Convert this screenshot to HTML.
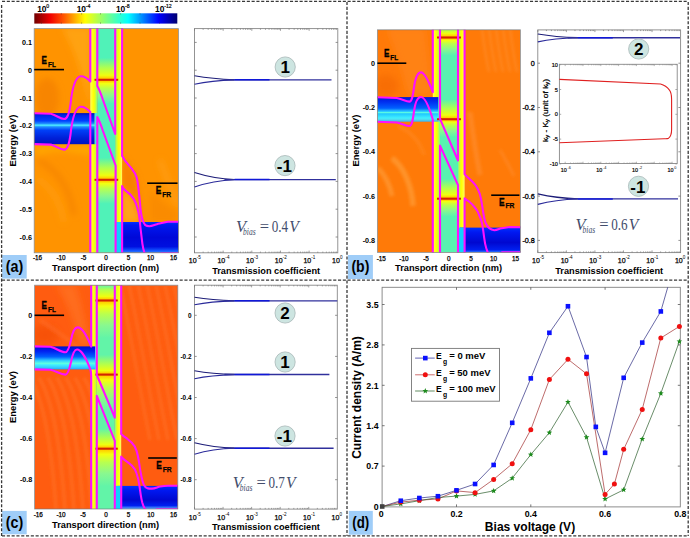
<!DOCTYPE html>
<html><head><meta charset="utf-8"><style>
html,body{margin:0;padding:0;background:#fff;}
svg{display:block;}
</style></head><body>
<svg width="690" height="538" viewBox="0 0 690 538">
<defs><linearGradient id="cbar" x1="0" y1="0" x2="1" y2="0"><stop offset="0" stop-color="#700000"/><stop offset="0.11" stop-color="#f00000"/><stop offset="0.2" stop-color="#ff5000"/><stop offset="0.355" stop-color="#ffff00"/><stop offset="0.5" stop-color="#80ff80"/><stop offset="0.655" stop-color="#00ffff"/><stop offset="0.87" stop-color="#0000ff"/><stop offset="1" stop-color="#000070"/></linearGradient><linearGradient id="bar1" x1="0" y1="0" x2="1" y2="0"><stop offset="0" stop-color="#fff870"/><stop offset="0.2" stop-color="#ffff30"/><stop offset="0.5" stop-color="#ffff00"/><stop offset="0.75" stop-color="#d0ff30"/><stop offset="1" stop-color="#80f890"/></linearGradient><linearGradient id="bar2" x1="0" y1="0" x2="1" y2="0"><stop offset="0" stop-color="#80f890"/><stop offset="0.25" stop-color="#d0ff30"/><stop offset="0.5" stop-color="#ffff00"/><stop offset="0.8" stop-color="#ffff30"/><stop offset="1" stop-color="#fff870"/></linearGradient><filter id="blur1" x="-20%" y="-20%" width="140%" height="140%"><feGaussianBlur stdDeviation="1.6"/></filter><filter id="blur2" x="-20%" y="-20%" width="140%" height="140%"><feGaussianBlur stdDeviation="3"/></filter><linearGradient id="Awell" gradientUnits="userSpaceOnUse" x1="0" y1="28.6" x2="0" y2="252.8"><stop offset="0" stop-color="#50f2b8"/><stop offset="0.13024085637823368" stop-color="#50f2b8"/><stop offset="0.17484388938447812" stop-color="#b0ff50"/><stop offset="0.20829616413916144" stop-color="#eeff10"/><stop offset="0.22123104371097232" stop-color="#ffd000"/><stop offset="0.2283675289919714" stop-color="#ff8000"/><stop offset="0.2355040142729705" stop-color="#ffd000"/><stop offset="0.24442462087421937" stop-color="#f4ff10"/><stop offset="0.2676181980374665" stop-color="#b8ff50"/><stop offset="0.29973238180196243" stop-color="#88f890"/><stop offset="0.335414808206958" stop-color="#50f2b8"/><stop offset="0.576271186440678" stop-color="#50f2b8"/><stop offset="0.6208742194469224" stop-color="#b0ff50"/><stop offset="0.6543264942016057" stop-color="#eeff10"/><stop offset="0.6672613737734167" stop-color="#ffd000"/><stop offset="0.6743978590544157" stop-color="#ff8000"/><stop offset="0.6815343443354148" stop-color="#ffd000"/><stop offset="0.6904549509366636" stop-color="#f4ff10"/><stop offset="0.7136485280999109" stop-color="#b8ff50"/><stop offset="0.7457627118644068" stop-color="#88f890"/><stop offset="0.7814451382694023" stop-color="#50f2b8"/><stop offset="1" stop-color="#50f2b8"/></linearGradient><linearGradient id="AblL" x1="0" y1="0" x2="0" y2="1"><stop offset="0" stop-color="#0010b8"/><stop offset="0.08" stop-color="#0028e8"/><stop offset="0.25" stop-color="#0040ff"/><stop offset="0.34" stop-color="#2090ff"/><stop offset="0.39" stop-color="#50f0ff"/><stop offset="0.44" stop-color="#2090ff"/><stop offset="0.55" stop-color="#0040f8"/><stop offset="0.8" stop-color="#0020d8"/><stop offset="1" stop-color="#0014c0"/></linearGradient><linearGradient id="AblR" x1="0" y1="0" x2="0" y2="1"><stop offset="0" stop-color="#0030ff"/><stop offset="0.1" stop-color="#0018f0"/><stop offset="0.5" stop-color="#0008d8"/><stop offset="0.8" stop-color="#0010e0"/><stop offset="0.92" stop-color="#1050ff"/><stop offset="1" stop-color="#3080ff"/></linearGradient><linearGradient id="Bwell" gradientUnits="userSpaceOnUse" x1="0" y1="29.8" x2="0" y2="252.4"><stop offset="0" stop-color="#58f2b0"/><stop offset="0" stop-color="#58f2b0"/><stop offset="0" stop-color="#b0ff50"/><stop offset="0.016397124887690937" stop-color="#eeff10"/><stop offset="0.027403414195867018" stop-color="#ffd000"/><stop offset="0.03459119496855346" stop-color="#ff8000"/><stop offset="0.0417789757412399" stop-color="#ffd000"/><stop offset="0.046720575022461824" stop-color="#f4ff10"/><stop offset="0.064240790655885" stop-color="#b8ff50"/><stop offset="0.08849955076370171" stop-color="#88f890"/><stop offset="0.11545372866127583" stop-color="#58f2b0"/><stop offset="0.3126684636118599" stop-color="#58f2b0"/><stop offset="0.3530997304582211" stop-color="#b0ff50"/><stop offset="0.38342318059299196" stop-color="#eeff10"/><stop offset="0.39442946990116806" stop-color="#ffd000"/><stop offset="0.4016172506738545" stop-color="#ff8000"/><stop offset="0.4088050314465409" stop-color="#ffd000"/><stop offset="0.41374663072776285" stop-color="#f4ff10"/><stop offset="0.431266846361186" stop-color="#b8ff50"/><stop offset="0.45552560646900264" stop-color="#88f890"/><stop offset="0.4824797843665768" stop-color="#58f2b0"/><stop offset="0.6698113207547168" stop-color="#58f2b0"/><stop offset="0.7102425876010781" stop-color="#b0ff50"/><stop offset="0.740566037735849" stop-color="#eeff10"/><stop offset="0.7515723270440251" stop-color="#ffd000"/><stop offset="0.7587601078167115" stop-color="#ff8000"/><stop offset="0.7659478885893979" stop-color="#ffd000"/><stop offset="0.7708894878706198" stop-color="#f4ff10"/><stop offset="0.788409703504043" stop-color="#b8ff50"/><stop offset="0.8126684636118597" stop-color="#88f890"/><stop offset="0.8396226415094339" stop-color="#58f2b0"/><stop offset="1" stop-color="#58f2b0"/></linearGradient><linearGradient id="BblL" x1="0" y1="0" x2="0" y2="1"><stop offset="0" stop-color="#0018d8"/><stop offset="0.2" stop-color="#0030f0"/><stop offset="0.45" stop-color="#0060ff"/><stop offset="0.6" stop-color="#30d8ff"/><stop offset="0.62" stop-color="#60ffe0"/><stop offset="0.68" stop-color="#20c8ff"/><stop offset="0.85" stop-color="#40f0ff"/><stop offset="0.9" stop-color="#50e0f0"/><stop offset="1" stop-color="#40b0f0"/></linearGradient><linearGradient id="BblR" x1="0" y1="0" x2="0" y2="1"><stop offset="0" stop-color="#0030ff"/><stop offset="0.2" stop-color="#0018f0"/><stop offset="0.6" stop-color="#0008d0"/><stop offset="0.9" stop-color="#0020f0"/><stop offset="1" stop-color="#3080ff"/></linearGradient><linearGradient id="Cwell" gradientUnits="userSpaceOnUse" x1="0" y1="285.2" x2="0" y2="509.0"><stop offset="0" stop-color="#62f4a8"/><stop offset="0" stop-color="#62f4a8"/><stop offset="0.020107238605898123" stop-color="#b0ff50"/><stop offset="0.05026809651474531" stop-color="#eeff10"/><stop offset="0.061215370866845344" stop-color="#ffd000"/><stop offset="0.06836461126005366" stop-color="#ff8000"/><stop offset="0.07551385165326199" stop-color="#ffd000"/><stop offset="0.09349865951742632" stop-color="#f4ff10"/><stop offset="0.12980339588918682" stop-color="#b8ff50"/><stop offset="0.18007149240393214" stop-color="#88f890"/><stop offset="0.23592493297587136" stop-color="#62f4a8"/><stop offset="0.31099195710455774" stop-color="#62f4a8"/><stop offset="0.35120643431635395" stop-color="#b0ff50"/><stop offset="0.38136729222520116" stop-color="#eeff10"/><stop offset="0.3923145665773012" stop-color="#ffd000"/><stop offset="0.39946380697050954" stop-color="#ff8000"/><stop offset="0.40661304736371784" stop-color="#ffd000"/><stop offset="0.4245978552278822" stop-color="#f4ff10"/><stop offset="0.46090259159964264" stop-color="#b8ff50"/><stop offset="0.5111706881143879" stop-color="#88f890"/><stop offset="0.5670241286863272" stop-color="#62f4a8"/><stop offset="0.6420911528150133" stop-color="#62f4a8"/><stop offset="0.6823056300268096" stop-color="#b0ff50"/><stop offset="0.7124664879356567" stop-color="#eeff10"/><stop offset="0.7234137622877568" stop-color="#ffd000"/><stop offset="0.7305630026809651" stop-color="#ff8000"/><stop offset="0.7377122430741734" stop-color="#ffd000"/><stop offset="0.7556970509383377" stop-color="#f4ff10"/><stop offset="0.7920017873100983" stop-color="#b8ff50"/><stop offset="0.8422698838248436" stop-color="#88f890"/><stop offset="0.8981233243967828" stop-color="#62f4a8"/><stop offset="1" stop-color="#62f4a8"/></linearGradient><linearGradient id="CblL" x1="0" y1="0" x2="0" y2="1"><stop offset="0" stop-color="#0010d0"/><stop offset="0.2" stop-color="#0020f0"/><stop offset="0.45" stop-color="#0060ff"/><stop offset="0.62" stop-color="#30d0ff"/><stop offset="0.74" stop-color="#60ffe0"/><stop offset="0.8" stop-color="#40f0ff"/><stop offset="0.95" stop-color="#30c0ff"/><stop offset="1" stop-color="#2090ff"/></linearGradient><linearGradient id="CblR" x1="0" y1="0" x2="0" y2="1"><stop offset="0" stop-color="#0030ff"/><stop offset="0.2" stop-color="#0018f0"/><stop offset="0.6" stop-color="#0008d0"/><stop offset="0.85" stop-color="#0020f0"/><stop offset="1" stop-color="#60b0ff"/></linearGradient><clipPath id="Aclip"><rect x="34.2" y="28.6" width="144.3" height="224.20000000000002"/></clipPath><clipPath id="Bclip"><rect x="377.4" y="29.8" width="143.0" height="222.6"/></clipPath><clipPath id="Cclip"><rect x="34.6" y="285.2" width="143.20000000000002" height="223.8"/></clipPath><clipPath id="Dclip"><rect x="382.1" y="287.3" width="303.19999999999993" height="223.59999999999997"/></clipPath></defs>
<rect width="690" height="538" fill="#fff"/>
<rect x="34.3" y="13.3" width="143" height="10.3" fill="url(#cbar)" />
<line x1="41.5" y1="13.3" x2="41.5" y2="14.4" stroke="#333" stroke-width="0.5" />
<line x1="41.5" y1="22.5" x2="41.5" y2="23.6" stroke="#333" stroke-width="0.5" />
<line x1="61.3" y1="13.3" x2="61.3" y2="14.4" stroke="#333" stroke-width="0.5" />
<line x1="61.3" y1="22.5" x2="61.3" y2="23.6" stroke="#333" stroke-width="0.5" />
<line x1="81.6" y1="13.3" x2="81.6" y2="14.4" stroke="#333" stroke-width="0.5" />
<line x1="81.6" y1="22.5" x2="81.6" y2="23.6" stroke="#333" stroke-width="0.5" />
<line x1="100.5" y1="13.3" x2="100.5" y2="14.4" stroke="#333" stroke-width="0.5" />
<line x1="100.5" y1="22.5" x2="100.5" y2="23.6" stroke="#333" stroke-width="0.5" />
<line x1="120.6" y1="13.3" x2="120.6" y2="14.4" stroke="#333" stroke-width="0.5" />
<line x1="120.6" y1="22.5" x2="120.6" y2="23.6" stroke="#333" stroke-width="0.5" />
<line x1="140" y1="13.3" x2="140" y2="14.4" stroke="#333" stroke-width="0.5" />
<line x1="140" y1="22.5" x2="140" y2="23.6" stroke="#333" stroke-width="0.5" />
<line x1="159.5" y1="13.3" x2="159.5" y2="14.4" stroke="#333" stroke-width="0.5" />
<line x1="159.5" y1="22.5" x2="159.5" y2="23.6" stroke="#333" stroke-width="0.5" />
<text x="37.2" y="11.8" text-anchor="start" style='font-family:"Liberation Sans",sans-serif;font-size:8.4px;font-weight:bold;fill:#000;'>10</text>
<text x="46.3" y="8.2" text-anchor="start" style='font-family:"Liberation Sans",sans-serif;font-size:5.2px;font-weight:normal;fill:#000;stroke:#000;stroke-width:0.2px;'>0</text>
<text x="76.7" y="11.8" text-anchor="start" style='font-family:"Liberation Sans",sans-serif;font-size:8.4px;font-weight:bold;fill:#000;'>10</text>
<text x="85.8" y="8.2" text-anchor="start" style='font-family:"Liberation Sans",sans-serif;font-size:5.2px;font-weight:normal;fill:#000;stroke:#000;stroke-width:0.2px;'>-4</text>
<text x="115.9" y="11.8" text-anchor="start" style='font-family:"Liberation Sans",sans-serif;font-size:8.4px;font-weight:bold;fill:#000;'>10</text>
<text x="125.0" y="8.2" text-anchor="start" style='font-family:"Liberation Sans",sans-serif;font-size:5.2px;font-weight:normal;fill:#000;stroke:#000;stroke-width:0.2px;'>-8</text>
<text x="155.1" y="11.8" text-anchor="start" style='font-family:"Liberation Sans",sans-serif;font-size:8.4px;font-weight:bold;fill:#000;'>10</text>
<text x="164.20000000000002" y="8.2" text-anchor="start" style='font-family:"Liberation Sans",sans-serif;font-size:5.2px;font-weight:normal;fill:#000;stroke:#000;stroke-width:0.2px;'>-12</text>
<g clip-path="url(#Aclip)">
<rect x="34.2" y="28.6" width="144.3" height="224.20000000000002" fill="#ff9300" />
<g filter="url(#blur2)">
<path d="M62,28 L90,28 L90,112 C86,84 76,52 62,28 Z" fill="#ffae20" opacity="0.55"/>
<ellipse cx="47" cy="98" rx="12" ry="20" fill="#ee7400" opacity="0.45"/>
<path d="M36,146 L92,146 L92,156 C70,150 50,150 36,156 Z" fill="#ffb400" opacity="0.6"/>
<path d="M38,160 C58,170 70,190 74,215" stroke="#f07a00" stroke-width="5" fill="none" opacity="0.55"/>
<path d="M36,178 C50,186 60,200 64,222" stroke="#ffa820" stroke-width="4" fill="none" opacity="0.5"/>
<path d="M122,156 C128,164 134,170 136.6,177.3 C139,190 141,215 145,225 L141,228 C139,215 137,206 133,198 C129,193 125,189 122,186 Z" fill="#f07000" opacity="0.5"/>
<path d="M122,190 C130,195 136,203 139,215 L140,222 L122,222 Z" fill="#ffb030" opacity="0.55"/>
<path d="M150,190 C160,200 170,208 178,212 L178,222 L150,222 Z" fill="#f27c00" opacity="0.35"/>
<path d="M160,160 C168,180 172,195 178,205" stroke="#ffae30" stroke-width="4" fill="none" opacity="0.45"/>
</g>
<rect x="90.3" y="28.6" width="7.0" height="224.20000000000002" fill="url(#bar1)" />
<rect x="115.2" y="28.6" width="6.8999999999999915" height="224.20000000000002" fill="url(#bar2)" />
<rect x="97.3" y="28.6" width="17.900000000000006" height="224.20000000000002" fill="url(#Awell)" />
<rect x="34.2" y="113.1" width="60.5" height="31.099999999999994" fill="url(#AblL)" />
<rect x="117" y="222" width="61.5" height="30.80000000000001" fill="url(#AblR)" />
<rect x="115.7" y="222" width="5.8999999999999915" height="30.80000000000001" fill="#10d0ff" />
<rect x="94.7" y="113.1" width="2.5999999999999943" height="31.099999999999994" fill="#40e8e8" />
<rect x="94.5" y="78.8" width="23.700000000000006" height="2.0" fill="#d02800" />
<rect x="94.5" y="178.8" width="23.700000000000006" height="2.0" fill="#d02800" />
<path d="M34,113.3 L50.8,113.8 C56,115 60,119 64.2,119 C68,119 69.5,112 70.5,104 C72,90 74.5,77 80.6,76.3 C85,76 88,79 90.3,81.5 L90.3,20" fill="none" stroke="#ff10ff" stroke-width="2.1" stroke-linejoin="round"/>
<path d="M34,144.1 L50.8,144.6 C56,146 60,149.6 64.2,149.6 C68,149.6 69.5,142.5 70.5,134.5 C72,120.5 74.5,107.5 80.6,106.8 C85,106.5 88,109.5 90.3,112 L90.3,260" fill="none" stroke="#ff10ff" stroke-width="2.1" stroke-linejoin="round"/>
<path d="M97.3,20 L97.3,86 C99,89 101,94 103,100 L115.2,134 L115.2,20" fill="none" stroke="#ff10ff" stroke-width="2.1" stroke-linejoin="round"/>
<path d="M97.3,260 L97.3,117 C99,120 101,125 103,131 L115.6,165.5 L115.6,260" fill="none" stroke="#ff10ff" stroke-width="2.1" stroke-linejoin="round"/>
<path d="M122.1,20 L122.1,155.9 C123.5,158 124.5,160 125.8,161.7 C128,164.5 130,166.5 131.7,168.6 C134,171.5 135.8,174.5 136.6,177.3 C137.6,181 138,185 138.5,189 C139.3,196 140,203 140.5,208.6 C141,213 141.6,217 142.4,219.3 C143.2,222 144,224 145.3,225.2 C146.5,226 148,226.2 149.3,226.2 C152,226.2 154.5,224.8 157,224.2 C160,223.5 163,222.5 168,221.8 L180,221.8" fill="none" stroke="#ff10ff" stroke-width="2.1" stroke-linejoin="round"/>
<path d="M122.1,260 L122.1,186.1 C122.7,187.5 123.2,188.3 123.9,189 C126,191 128.5,193 130.7,194.9 C132.5,196.7 134.3,199.5 135.6,202.7 C136.8,206 137.8,209.5 138.5,212.5 C139.5,217 140,223 140.5,228.1 C141.2,234 141.8,239 142.4,243.8 C143,248 143.7,250.5 144.4,252.5 C146,258 148,258 152,258 L162,253 L180,253" fill="none" stroke="#ff10ff" stroke-width="2.1" stroke-linejoin="round"/>
</g>
<rect x="34.2" y="28.6" width="144.3" height="224.20000000000002" fill="none" stroke="#707880" stroke-width="0.8" stroke-opacity="0.8"/>
<line x1="34.2" y1="69.6" x2="64" y2="69.6" stroke="#000" stroke-width="1.6" />
<text x="41.6" y="64.4" text-anchor="start" style='font-family:"Liberation Sans",sans-serif;font-size:10.5px;font-weight:bold;fill:#000;stroke:#000;stroke-width:0.35px;' textLength="5.4" lengthAdjust="spacingAndGlyphs">E</text>
<text x="48.0" y="67.2" text-anchor="start" style='font-family:"Liberation Sans",sans-serif;font-size:7.8px;font-weight:bold;fill:#000;stroke:#000;stroke-width:0.25px;' textLength="7.8" lengthAdjust="spacingAndGlyphs">FL</text>
<line x1="147.2" y1="183.2" x2="177.5" y2="183.2" stroke="#000" stroke-width="1.6" />
<text x="155.8" y="194.2" text-anchor="start" style='font-family:"Liberation Sans",sans-serif;font-size:10.5px;font-weight:bold;fill:#000;stroke:#000;stroke-width:0.35px;' textLength="5.6" lengthAdjust="spacingAndGlyphs">E</text>
<text x="162.2" y="196.79999999999998" text-anchor="start" style='font-family:"Liberation Sans",sans-serif;font-size:7.8px;font-weight:bold;fill:#000;stroke:#000;stroke-width:0.25px;' textLength="9" lengthAdjust="spacingAndGlyphs">FR</text>
<text x="31.900000000000002" y="44.900000000000006" text-anchor="end" style='font-family:"Liberation Sans",sans-serif;font-size:7.2px;font-weight:bold;fill:#000;'>0.1</text>
<text x="31.900000000000002" y="72.7" text-anchor="end" style='font-family:"Liberation Sans",sans-serif;font-size:7.2px;font-weight:bold;fill:#000;'>0</text>
<text x="31.900000000000002" y="100.5" text-anchor="end" style='font-family:"Liberation Sans",sans-serif;font-size:7.2px;font-weight:bold;fill:#000;'>-0.1</text>
<text x="31.900000000000002" y="128.3" text-anchor="end" style='font-family:"Liberation Sans",sans-serif;font-size:7.2px;font-weight:bold;fill:#000;'>-0.2</text>
<text x="31.900000000000002" y="156.1" text-anchor="end" style='font-family:"Liberation Sans",sans-serif;font-size:7.2px;font-weight:bold;fill:#000;'>-0.3</text>
<text x="31.900000000000002" y="183.9" text-anchor="end" style='font-family:"Liberation Sans",sans-serif;font-size:7.2px;font-weight:bold;fill:#000;'>-0.4</text>
<text x="31.900000000000002" y="211.7" text-anchor="end" style='font-family:"Liberation Sans",sans-serif;font-size:7.2px;font-weight:bold;fill:#000;'>-0.5</text>
<text x="31.900000000000002" y="239.5" text-anchor="end" style='font-family:"Liberation Sans",sans-serif;font-size:7.2px;font-weight:bold;fill:#000;'>-0.6</text>
<text x="37.5" y="260.1" text-anchor="middle" style='font-family:"Liberation Sans",sans-serif;font-size:6.4px;font-weight:normal;fill:#000;stroke:#000;stroke-width:0.25px;'>-16</text>
<text x="61" y="260.1" text-anchor="middle" style='font-family:"Liberation Sans",sans-serif;font-size:6.4px;font-weight:normal;fill:#000;stroke:#000;stroke-width:0.25px;'>-10</text>
<text x="83.5" y="260.1" text-anchor="middle" style='font-family:"Liberation Sans",sans-serif;font-size:6.4px;font-weight:normal;fill:#000;stroke:#000;stroke-width:0.25px;'>-5</text>
<text x="106" y="260.1" text-anchor="middle" style='font-family:"Liberation Sans",sans-serif;font-size:6.4px;font-weight:normal;fill:#000;stroke:#000;stroke-width:0.25px;'>0</text>
<text x="128.5" y="260.1" text-anchor="middle" style='font-family:"Liberation Sans",sans-serif;font-size:6.4px;font-weight:normal;fill:#000;stroke:#000;stroke-width:0.25px;'>5</text>
<text x="150.5" y="260.1" text-anchor="middle" style='font-family:"Liberation Sans",sans-serif;font-size:6.4px;font-weight:normal;fill:#000;stroke:#000;stroke-width:0.25px;'>10</text>
<text x="173.5" y="260.1" text-anchor="middle" style='font-family:"Liberation Sans",sans-serif;font-size:6.4px;font-weight:normal;fill:#000;stroke:#000;stroke-width:0.25px;'>16</text>
<text x="105.5" y="270.6" text-anchor="middle" style='font-family:"Liberation Sans",sans-serif;font-size:9.4px;font-weight:bold;fill:#000;' textLength="107" lengthAdjust="spacingAndGlyphs">Transport direction (nm)</text>
<text transform="translate(16.2,140.6) rotate(-90)" text-anchor="middle" style='font-family:"Liberation Sans",sans-serif;font-size:9.4px;font-weight:bold;fill:#000' textLength="52" lengthAdjust="spacingAndGlyphs">Energy (eV)</text>
<g clip-path="url(#Bclip)">
<rect x="377.4" y="29.8" width="143.0" height="222.6" fill="#ff7a08" />
<g filter="url(#blur1)">
<path d="M386,28 L425,28 C428,60 430,80 432,95 L408,95 C402,70 394,45 386,28 Z" fill="#ff8c28" opacity="0.45" filter="url(#blur2)"/>
<ellipse cx="386" cy="86" rx="12" ry="11" fill="#f06000" opacity="0.45" filter="url(#blur2)"/>
<path d="M392,158 C405,168 412,188 413,206" stroke="#ff9630" stroke-width="5.5" fill="none" opacity="0.85"/>
<path d="M378,168 C386,176 390,186 392,196" stroke="#ff9630" stroke-width="5" fill="none" opacity="0.8"/>
<path d="M398,126 C412,132 420,142 424,155" stroke="#ff8c20" stroke-width="4" fill="none" opacity="0.5"/>
<path d="M482,28 C484,45 486,58 489,72" stroke="#ff9436" stroke-width="2.2" fill="none" opacity="0.5"/>
<path d="M489,28 C491,45 493,58 496,72" stroke="#ff9436" stroke-width="2.2" fill="none" opacity="0.5"/>
<path d="M496,28 C498,45 500,58 503,72" stroke="#ff9436" stroke-width="2.2" fill="none" opacity="0.5"/>
<path d="M503,28 C505,45 507,58 510,72" stroke="#ff9436" stroke-width="2.2" fill="none" opacity="0.5"/>
<path d="M510,28 C512,45 514,58 517,72" stroke="#ff9436" stroke-width="2.2" fill="none" opacity="0.5"/>
<path d="M470,112 C473,135 476,155 480,175" stroke="#ff9030" stroke-width="5" fill="none" opacity="0.6"/>
<path d="M500,150 C506,160 510,168 514,176" stroke="#ff9030" stroke-width="3" fill="none" opacity="0.5"/>
</g>
<rect x="432.8" y="29.8" width="7.199999999999989" height="222.6" fill="url(#bar1)" />
<rect x="458.0" y="29.8" width="6.600000000000023" height="222.6" fill="url(#bar2)" />
<rect x="440.0" y="29.8" width="18.0" height="222.6" fill="url(#Bwell)" />
<rect x="377.4" y="97.1" width="61.10000000000002" height="24.60000000000001" fill="url(#BblL)" />
<rect x="460" y="227.6" width="60.39999999999998" height="24.80000000000001" fill="url(#BblR)" />
<rect x="458.5" y="227.6" width="5.600000000000023" height="24.80000000000001" fill="#10d0ff" />
<rect x="438.5" y="97.1" width="1.5" height="24.60000000000001" fill="#40e8e8" />
<rect x="437.0" y="36.5" width="23.99999999999999" height="2.0" fill="#d02800" />
<rect x="437.0" y="118.2" width="23.99999999999999" height="2.0" fill="#d02800" />
<rect x="437.0" y="197.7" width="23.99999999999999" height="2.0" fill="#d02800" />
<path d="M377,97.2 L396.8,98 C402,99 406,101.6 409.4,101.6 C412,101.6 413,95 413.9,88 C415,80 417,72.4 420.9,72.4 C425,72.4 429,82 432.8,92.2 L432.8,20" fill="none" stroke="#ff10ff" stroke-width="2.1" stroke-linejoin="round"/>
<path d="M377,121.7 L396.8,122.5 C402,123.5 406,126 409.4,126 C412,126 413,119 413.9,112 C415,104 417,97 420.8,97 C425,97 429,106.5 432.8,119.5 L432.8,260" fill="none" stroke="#ff10ff" stroke-width="2.1" stroke-linejoin="round"/>
<path d="M440,20 L440,118.8 L458,160.5 L458,20" fill="none" stroke="#ff10ff" stroke-width="2.1" stroke-linejoin="round"/>
<path d="M440,260 L440,145.6 L458,185 L458,260" fill="none" stroke="#ff10ff" stroke-width="2.1" stroke-linejoin="round"/>
<path d="M464.6,20 L464.6,174.2 C466.5,176.5 470,179.5 472.5,181.7 C476,185 479.5,191 480.9,198.4 C482,204 482.8,210 483.4,213.5 C484.2,218 485,222 485.9,223.5 C487,226 489,229.6 494.3,230.2 C497,230.2 499,228.8 500.1,228.5 L510,227 L522,227.3" fill="none" stroke="#ff10ff" stroke-width="2.1" stroke-linejoin="round"/>
<path d="M464.6,260 L464.6,198.4 C466,199.5 467,200.5 468.4,201 C471,203 473,205 475,207.6 C477,210 478.5,213 479.2,215.2 C480.5,218 481.2,220 481.7,221.9 C482.5,225 483,229 483.4,231.9 C484,237 484.5,240 485.1,243.6 C486,248 487,250.5 487.6,252 C489,256 491,257 494,257 L502,252.4 L522,252.4" fill="none" stroke="#ff10ff" stroke-width="2.1" stroke-linejoin="round"/>
</g>
<rect x="377.4" y="29.8" width="143.0" height="222.6" fill="none" stroke="#707880" stroke-width="0.8" stroke-opacity="0.8"/>
<line x1="377.4" y1="63.2" x2="406.3" y2="63.2" stroke="#000" stroke-width="1.6" />
<text x="383.90000000000003" y="56.8" text-anchor="start" style='font-family:"Liberation Sans",sans-serif;font-size:10.5px;font-weight:bold;fill:#000;stroke:#000;stroke-width:0.35px;' textLength="5.4" lengthAdjust="spacingAndGlyphs">E</text>
<text x="390.3" y="59.599999999999994" text-anchor="start" style='font-family:"Liberation Sans",sans-serif;font-size:7.8px;font-weight:bold;fill:#000;stroke:#000;stroke-width:0.25px;' textLength="7.8" lengthAdjust="spacingAndGlyphs">FL</text>
<line x1="491.2" y1="195.2" x2="519.4" y2="195.2" stroke="#000" stroke-width="1.6" />
<text x="499.0" y="205.8" text-anchor="start" style='font-family:"Liberation Sans",sans-serif;font-size:10.5px;font-weight:bold;fill:#000;stroke:#000;stroke-width:0.35px;' textLength="5.6" lengthAdjust="spacingAndGlyphs">E</text>
<text x="505.4" y="208.4" text-anchor="start" style='font-family:"Liberation Sans",sans-serif;font-size:7.8px;font-weight:bold;fill:#000;stroke:#000;stroke-width:0.25px;' textLength="9" lengthAdjust="spacingAndGlyphs">FR</text>
<text x="375.09999999999997" y="65.7" text-anchor="end" style='font-family:"Liberation Sans",sans-serif;font-size:7.2px;font-weight:bold;fill:#000;'>0</text>
<text x="375.09999999999997" y="110.0" text-anchor="end" style='font-family:"Liberation Sans",sans-serif;font-size:7.2px;font-weight:bold;fill:#000;'>-0.2</text>
<text x="375.09999999999997" y="154.3" text-anchor="end" style='font-family:"Liberation Sans",sans-serif;font-size:7.2px;font-weight:bold;fill:#000;'>-0.4</text>
<text x="375.09999999999997" y="198.60000000000002" text-anchor="end" style='font-family:"Liberation Sans",sans-serif;font-size:7.2px;font-weight:bold;fill:#000;'>-0.6</text>
<text x="375.09999999999997" y="242.90000000000003" text-anchor="end" style='font-family:"Liberation Sans",sans-serif;font-size:7.2px;font-weight:bold;fill:#000;'>-0.8</text>
<text x="381.3" y="260.5" text-anchor="middle" style='font-family:"Liberation Sans",sans-serif;font-size:6.4px;font-weight:normal;fill:#000;stroke:#000;stroke-width:0.25px;'>-15</text>
<text x="403.9" y="260.5" text-anchor="middle" style='font-family:"Liberation Sans",sans-serif;font-size:6.4px;font-weight:normal;fill:#000;stroke:#000;stroke-width:0.25px;'>-10</text>
<text x="426" y="260.5" text-anchor="middle" style='font-family:"Liberation Sans",sans-serif;font-size:6.4px;font-weight:normal;fill:#000;stroke:#000;stroke-width:0.25px;'>-5</text>
<text x="448.8" y="260.5" text-anchor="middle" style='font-family:"Liberation Sans",sans-serif;font-size:6.4px;font-weight:normal;fill:#000;stroke:#000;stroke-width:0.25px;'>0</text>
<text x="471.1" y="260.5" text-anchor="middle" style='font-family:"Liberation Sans",sans-serif;font-size:6.4px;font-weight:normal;fill:#000;stroke:#000;stroke-width:0.25px;'>5</text>
<text x="493.5" y="260.5" text-anchor="middle" style='font-family:"Liberation Sans",sans-serif;font-size:6.4px;font-weight:normal;fill:#000;stroke:#000;stroke-width:0.25px;'>10</text>
<text x="515.5" y="260.5" text-anchor="middle" style='font-family:"Liberation Sans",sans-serif;font-size:6.4px;font-weight:normal;fill:#000;stroke:#000;stroke-width:0.25px;'>15</text>
<text x="448.5" y="270.8" text-anchor="middle" style='font-family:"Liberation Sans",sans-serif;font-size:9.4px;font-weight:bold;fill:#000;' textLength="107" lengthAdjust="spacingAndGlyphs">Transport direction (nm)</text>
<text transform="translate(359.2,140.6) rotate(-90)" text-anchor="middle" style='font-family:"Liberation Sans",sans-serif;font-size:9.4px;font-weight:bold;fill:#000' textLength="52" lengthAdjust="spacingAndGlyphs">Energy (eV)</text>
<g clip-path="url(#Cclip)">
<rect x="34.6" y="285.2" width="143.20000000000002" height="223.8" fill="#ff5c10" />
<g filter="url(#blur1)">
<path d="M56,285 L76,285 C82,305 86,325 90,345 L80,345 C74,320 66,300 56,285 Z" fill="#ff7a28" opacity="0.55" filter="url(#blur2)"/>
<ellipse cx="45" cy="335" rx="14" ry="10" fill="#f04800" opacity="0.5" filter="url(#blur2)"/>
<path d="M30,378 C44,400 52,450 56,510" stroke="#ff7426" stroke-width="3.2" fill="none" opacity="0.6"/>
<path d="M39,378 C53,400 61,450 65,510" stroke="#ff7426" stroke-width="3.2" fill="none" opacity="0.6"/>
<path d="M48,378 C62,400 70,450 74,510" stroke="#ff7426" stroke-width="3.2" fill="none" opacity="0.6"/>
<path d="M57,378 C71,400 79,450 83,510" stroke="#ff7426" stroke-width="3.2" fill="none" opacity="0.6"/>
<path d="M66,378 C80,400 88,450 92,510" stroke="#ff7426" stroke-width="3.2" fill="none" opacity="0.6"/>
<path d="M75,378 C89,400 97,450 101,510" stroke="#ff7426" stroke-width="3.2" fill="none" opacity="0.6"/>
<path d="M84,378 C98,400 106,450 110,510" stroke="#ff7426" stroke-width="3.2" fill="none" opacity="0.6"/>
<path d="M120,285 C130,330 138,380 150,440" stroke="#ff7426" stroke-width="3" fill="none" opacity="0.55"/>
<path d="M129,285 C139,330 147,380 159,440" stroke="#ff7426" stroke-width="3" fill="none" opacity="0.55"/>
<path d="M138,285 C148,330 156,380 168,440" stroke="#ff7426" stroke-width="3" fill="none" opacity="0.55"/>
<path d="M147,285 C157,330 165,380 177,440" stroke="#ff7426" stroke-width="3" fill="none" opacity="0.55"/>
<path d="M156,285 C166,330 174,380 186,440" stroke="#ff7426" stroke-width="3" fill="none" opacity="0.55"/>
<path d="M165,285 C175,330 183,380 195,440" stroke="#ff7426" stroke-width="3" fill="none" opacity="0.55"/>
<path d="M174,285 C184,330 192,380 204,440" stroke="#ff7426" stroke-width="3" fill="none" opacity="0.55"/>
<path d="M40,320 C55,330 70,340 80,350" stroke="#ff7020" stroke-width="4" fill="none" opacity="0.5"/>
</g>
<rect x="91.2" y="285.2" width="5.599999999999994" height="223.8" fill="url(#bar1)" />
<rect x="114.8" y="285.2" width="6.400000000000006" height="223.8" fill="url(#bar2)" />
<rect x="96.8" y="285.2" width="18.0" height="223.8" fill="url(#Cwell)" />
<rect x="34.6" y="346.4" width="60.4" height="23.0" fill="url(#CblL)" />
<rect x="117.5" y="485.9" width="60.30000000000001" height="23.100000000000023" fill="url(#CblR)" />
<rect x="115.3" y="485.9" width="5.400000000000006" height="23.100000000000023" fill="#10d0ff" />
<rect x="95" y="346.4" width="1.7999999999999972" height="23.0" fill="#40e8e8" />
<rect x="95.4" y="299.5" width="22.399999999999995" height="2.0" fill="#d02800" />
<rect x="95.4" y="373.6" width="22.399999999999995" height="2.0" fill="#d02800" />
<rect x="95.4" y="447.7" width="22.399999999999995" height="2.0" fill="#d02800" />
<path d="M34,346.4 L50.4,346.8 C56,348 61,352.3 65.3,352.3 C68,352.3 69.5,347 71,340 C72.5,332 74.5,327.4 77.6,327.4 C82,327.4 87,336 91.2,346.6 L91.2,270" fill="none" stroke="#ff10ff" stroke-width="2.1" stroke-linejoin="round"/>
<path d="M34,369.4 L50.4,369.8 C56,371 61,374.6 65.3,374.6 C68,374.6 69.5,369 71,362 C72.5,354 74.5,349.5 77,349.5 C81,349.5 86,358 89.5,367.2 C90.5,369 91.2,372 91.2,376 L91.2,520" fill="none" stroke="#ff10ff" stroke-width="2.1" stroke-linejoin="round"/>
<path d="M96.8,270 L96.8,375 L114.8,417.7 L114.8,270" fill="none" stroke="#ff10ff" stroke-width="2.1" stroke-linejoin="round"/>
<path d="M96.8,520 L96.8,395.8 L114.8,440.9 L114.8,520" fill="none" stroke="#ff10ff" stroke-width="2.1" stroke-linejoin="round"/>
<path d="M121.2,270 L121.2,433.9 C122.8,435.5 124.5,436.8 126.1,437.9 C128,439.5 130,441 131.8,442.8 C134,445 135.8,447.5 136.6,450.9 C137.8,455 138.5,459 139,462.2 C139.8,468 140.7,473 141.5,476.8 C142.2,480 143,483 143.9,484.9 C145,487 146.5,488 147.9,488.4 C149.5,488.7 150.8,488.6 152,488.6 C155,488.6 157.5,487 160.1,486.5 C163,486 165,485.8 168,485.8 L180,485.8" fill="none" stroke="#ff10ff" stroke-width="2.1" stroke-linejoin="round"/>
<path d="M121.2,520 L121.2,456.6 C122.2,458 123.3,459 124.5,459.8 C127,461.5 129.5,463.5 131.8,465.5 C133.8,467.5 135.5,470 136.6,473.5 C137.8,477 138.5,480 139,483.3 C139.7,487 140.2,491 140.7,494.6 C141.2,498 141.7,500.5 142.3,502.7 C143,505 143.8,507 144.7,508.3 C146,510 149,512 153,512 L157,509.2 L180,509.2" fill="none" stroke="#ff10ff" stroke-width="2.1" stroke-linejoin="round"/>
</g>
<rect x="34.6" y="285.2" width="143.20000000000002" height="223.8" fill="none" stroke="#707880" stroke-width="0.8" stroke-opacity="0.8"/>
<line x1="34.6" y1="315.3" x2="64.1" y2="315.3" stroke="#000" stroke-width="1.6" />
<text x="41.6" y="309.3" text-anchor="start" style='font-family:"Liberation Sans",sans-serif;font-size:10.5px;font-weight:bold;fill:#000;stroke:#000;stroke-width:0.35px;' textLength="5.4" lengthAdjust="spacingAndGlyphs">E</text>
<text x="48.0" y="312.1" text-anchor="start" style='font-family:"Liberation Sans",sans-serif;font-size:7.8px;font-weight:bold;fill:#000;stroke:#000;stroke-width:0.25px;' textLength="7.8" lengthAdjust="spacingAndGlyphs">FL</text>
<line x1="148.2" y1="458" x2="176.8" y2="458" stroke="#000" stroke-width="1.6" />
<text x="156.3" y="469.4" text-anchor="start" style='font-family:"Liberation Sans",sans-serif;font-size:10.5px;font-weight:bold;fill:#000;stroke:#000;stroke-width:0.35px;' textLength="5.6" lengthAdjust="spacingAndGlyphs">E</text>
<text x="162.7" y="472.0" text-anchor="start" style='font-family:"Liberation Sans",sans-serif;font-size:7.8px;font-weight:bold;fill:#000;stroke:#000;stroke-width:0.25px;' textLength="9" lengthAdjust="spacingAndGlyphs">FR</text>
<text x="32.300000000000004" y="317.8" text-anchor="end" style='font-family:"Liberation Sans",sans-serif;font-size:7.2px;font-weight:bold;fill:#000;'>0</text>
<text x="32.300000000000004" y="358.90000000000003" text-anchor="end" style='font-family:"Liberation Sans",sans-serif;font-size:7.2px;font-weight:bold;fill:#000;'>-0.2</text>
<text x="32.300000000000004" y="400.0" text-anchor="end" style='font-family:"Liberation Sans",sans-serif;font-size:7.2px;font-weight:bold;fill:#000;'>-0.4</text>
<text x="32.300000000000004" y="441.1" text-anchor="end" style='font-family:"Liberation Sans",sans-serif;font-size:7.2px;font-weight:bold;fill:#000;'>-0.6</text>
<text x="32.300000000000004" y="482.20000000000005" text-anchor="end" style='font-family:"Liberation Sans",sans-serif;font-size:7.2px;font-weight:bold;fill:#000;'>-0.8</text>
<text x="38.3" y="517.0" text-anchor="middle" style='font-family:"Liberation Sans",sans-serif;font-size:6.4px;font-weight:normal;fill:#000;stroke:#000;stroke-width:0.25px;'>-16</text>
<text x="61" y="517.0" text-anchor="middle" style='font-family:"Liberation Sans",sans-serif;font-size:6.4px;font-weight:normal;fill:#000;stroke:#000;stroke-width:0.25px;'>-10</text>
<text x="83" y="517.0" text-anchor="middle" style='font-family:"Liberation Sans",sans-serif;font-size:6.4px;font-weight:normal;fill:#000;stroke:#000;stroke-width:0.25px;'>-5</text>
<text x="106.1" y="517.0" text-anchor="middle" style='font-family:"Liberation Sans",sans-serif;font-size:6.4px;font-weight:normal;fill:#000;stroke:#000;stroke-width:0.25px;'>0</text>
<text x="128.5" y="517.0" text-anchor="middle" style='font-family:"Liberation Sans",sans-serif;font-size:6.4px;font-weight:normal;fill:#000;stroke:#000;stroke-width:0.25px;'>5</text>
<text x="150.8" y="517.0" text-anchor="middle" style='font-family:"Liberation Sans",sans-serif;font-size:6.4px;font-weight:normal;fill:#000;stroke:#000;stroke-width:0.25px;'>10</text>
<text x="173.5" y="517.0" text-anchor="middle" style='font-family:"Liberation Sans",sans-serif;font-size:6.4px;font-weight:normal;fill:#000;stroke:#000;stroke-width:0.25px;'>16</text>
<text x="105.5" y="527.8" text-anchor="middle" style='font-family:"Liberation Sans",sans-serif;font-size:9.4px;font-weight:bold;fill:#000;' textLength="107" lengthAdjust="spacingAndGlyphs">Transport direction (nm)</text>
<text transform="translate(16.2,397) rotate(-90)" text-anchor="middle" style='font-family:"Liberation Sans",sans-serif;font-size:9.4px;font-weight:bold;fill:#000' textLength="52" lengthAdjust="spacingAndGlyphs">Energy (eV)</text>
<rect x="194.5" y="28.6" width="143.3" height="224.20000000000002" fill="#fff" stroke="#888" stroke-width="0.9"/>
<line x1="194.5" y1="42.400000000000006" x2="196.7" y2="42.400000000000006" stroke="#777" stroke-width="0.8" />
<line x1="335.6" y1="42.400000000000006" x2="337.8" y2="42.400000000000006" stroke="#777" stroke-width="0.8" />
<line x1="194.5" y1="70.2" x2="196.7" y2="70.2" stroke="#777" stroke-width="0.8" />
<line x1="335.6" y1="70.2" x2="337.8" y2="70.2" stroke="#777" stroke-width="0.8" />
<line x1="194.5" y1="98.0" x2="196.7" y2="98.0" stroke="#777" stroke-width="0.8" />
<line x1="335.6" y1="98.0" x2="337.8" y2="98.0" stroke="#777" stroke-width="0.8" />
<line x1="194.5" y1="125.80000000000001" x2="196.7" y2="125.80000000000001" stroke="#777" stroke-width="0.8" />
<line x1="335.6" y1="125.80000000000001" x2="337.8" y2="125.80000000000001" stroke="#777" stroke-width="0.8" />
<line x1="194.5" y1="153.6" x2="196.7" y2="153.6" stroke="#777" stroke-width="0.8" />
<line x1="335.6" y1="153.6" x2="337.8" y2="153.6" stroke="#777" stroke-width="0.8" />
<line x1="194.5" y1="181.4" x2="196.7" y2="181.4" stroke="#777" stroke-width="0.8" />
<line x1="335.6" y1="181.4" x2="337.8" y2="181.4" stroke="#777" stroke-width="0.8" />
<line x1="194.5" y1="209.2" x2="196.7" y2="209.2" stroke="#777" stroke-width="0.8" />
<line x1="335.6" y1="209.2" x2="337.8" y2="209.2" stroke="#777" stroke-width="0.8" />
<line x1="194.5" y1="237.0" x2="196.7" y2="237.0" stroke="#777" stroke-width="0.8" />
<line x1="335.6" y1="237.0" x2="337.8" y2="237.0" stroke="#777" stroke-width="0.8" />
<line x1="194.5" y1="252.8" x2="194.5" y2="250.60000000000002" stroke="#777" stroke-width="0.7" />
<line x1="194.5" y1="28.6" x2="194.5" y2="30.8" stroke="#777" stroke-width="0.7" />
<line x1="203.1275196757297" y1="252.8" x2="203.1275196757297" y2="251.60000000000002" stroke="#777" stroke-width="0.7" />
<line x1="203.1275196757297" y1="28.6" x2="203.1275196757297" y2="29.8" stroke="#777" stroke-width="0.7" />
<line x1="208.17429516026553" y1="252.8" x2="208.17429516026553" y2="251.60000000000002" stroke="#777" stroke-width="0.7" />
<line x1="208.17429516026553" y1="28.6" x2="208.17429516026553" y2="29.8" stroke="#777" stroke-width="0.7" />
<line x1="211.7550393514594" y1="252.8" x2="211.7550393514594" y2="251.60000000000002" stroke="#777" stroke-width="0.7" />
<line x1="211.7550393514594" y1="28.6" x2="211.7550393514594" y2="29.8" stroke="#777" stroke-width="0.7" />
<line x1="214.5324803242703" y1="252.8" x2="214.5324803242703" y2="251.60000000000002" stroke="#777" stroke-width="0.7" />
<line x1="214.5324803242703" y1="28.6" x2="214.5324803242703" y2="29.8" stroke="#777" stroke-width="0.7" />
<line x1="216.80181483599523" y1="252.8" x2="216.80181483599523" y2="251.60000000000002" stroke="#777" stroke-width="0.7" />
<line x1="216.80181483599523" y1="28.6" x2="216.80181483599523" y2="29.8" stroke="#777" stroke-width="0.7" />
<line x1="218.7205098268086" y1="252.8" x2="218.7205098268086" y2="251.60000000000002" stroke="#777" stroke-width="0.7" />
<line x1="218.7205098268086" y1="28.6" x2="218.7205098268086" y2="29.8" stroke="#777" stroke-width="0.7" />
<line x1="220.3825590271891" y1="252.8" x2="220.3825590271891" y2="251.60000000000002" stroke="#777" stroke-width="0.7" />
<line x1="220.3825590271891" y1="28.6" x2="220.3825590271891" y2="29.8" stroke="#777" stroke-width="0.7" />
<line x1="221.84859032053106" y1="252.8" x2="221.84859032053106" y2="251.60000000000002" stroke="#777" stroke-width="0.7" />
<line x1="221.84859032053106" y1="28.6" x2="221.84859032053106" y2="29.8" stroke="#777" stroke-width="0.7" />
<line x1="223.16" y1="252.8" x2="223.16" y2="250.60000000000002" stroke="#777" stroke-width="0.7" />
<line x1="223.16" y1="28.6" x2="223.16" y2="30.8" stroke="#777" stroke-width="0.7" />
<line x1="231.7875196757297" y1="252.8" x2="231.7875196757297" y2="251.60000000000002" stroke="#777" stroke-width="0.7" />
<line x1="231.7875196757297" y1="28.6" x2="231.7875196757297" y2="29.8" stroke="#777" stroke-width="0.7" />
<line x1="236.83429516026553" y1="252.8" x2="236.83429516026553" y2="251.60000000000002" stroke="#777" stroke-width="0.7" />
<line x1="236.83429516026553" y1="28.6" x2="236.83429516026553" y2="29.8" stroke="#777" stroke-width="0.7" />
<line x1="240.41503935145943" y1="252.8" x2="240.41503935145943" y2="251.60000000000002" stroke="#777" stroke-width="0.7" />
<line x1="240.41503935145943" y1="28.6" x2="240.41503935145943" y2="29.8" stroke="#777" stroke-width="0.7" />
<line x1="243.19248032427032" y1="252.8" x2="243.19248032427032" y2="251.60000000000002" stroke="#777" stroke-width="0.7" />
<line x1="243.19248032427032" y1="28.6" x2="243.19248032427032" y2="29.8" stroke="#777" stroke-width="0.7" />
<line x1="245.46181483599523" y1="252.8" x2="245.46181483599523" y2="251.60000000000002" stroke="#777" stroke-width="0.7" />
<line x1="245.46181483599523" y1="28.6" x2="245.46181483599523" y2="29.8" stroke="#777" stroke-width="0.7" />
<line x1="247.3805098268086" y1="252.8" x2="247.3805098268086" y2="251.60000000000002" stroke="#777" stroke-width="0.7" />
<line x1="247.3805098268086" y1="28.6" x2="247.3805098268086" y2="29.8" stroke="#777" stroke-width="0.7" />
<line x1="249.0425590271891" y1="252.8" x2="249.0425590271891" y2="251.60000000000002" stroke="#777" stroke-width="0.7" />
<line x1="249.0425590271891" y1="28.6" x2="249.0425590271891" y2="29.8" stroke="#777" stroke-width="0.7" />
<line x1="250.50859032053106" y1="252.8" x2="250.50859032053106" y2="251.60000000000002" stroke="#777" stroke-width="0.7" />
<line x1="250.50859032053106" y1="28.6" x2="250.50859032053106" y2="29.8" stroke="#777" stroke-width="0.7" />
<line x1="251.82" y1="252.8" x2="251.82" y2="250.60000000000002" stroke="#777" stroke-width="0.7" />
<line x1="251.82" y1="28.6" x2="251.82" y2="30.8" stroke="#777" stroke-width="0.7" />
<line x1="260.4475196757297" y1="252.8" x2="260.4475196757297" y2="251.60000000000002" stroke="#777" stroke-width="0.7" />
<line x1="260.4475196757297" y1="28.6" x2="260.4475196757297" y2="29.8" stroke="#777" stroke-width="0.7" />
<line x1="265.49429516026555" y1="252.8" x2="265.49429516026555" y2="251.60000000000002" stroke="#777" stroke-width="0.7" />
<line x1="265.49429516026555" y1="28.6" x2="265.49429516026555" y2="29.8" stroke="#777" stroke-width="0.7" />
<line x1="269.0750393514594" y1="252.8" x2="269.0750393514594" y2="251.60000000000002" stroke="#777" stroke-width="0.7" />
<line x1="269.0750393514594" y1="28.6" x2="269.0750393514594" y2="29.8" stroke="#777" stroke-width="0.7" />
<line x1="271.8524803242703" y1="252.8" x2="271.8524803242703" y2="251.60000000000002" stroke="#777" stroke-width="0.7" />
<line x1="271.8524803242703" y1="28.6" x2="271.8524803242703" y2="29.8" stroke="#777" stroke-width="0.7" />
<line x1="274.1218148359952" y1="252.8" x2="274.1218148359952" y2="251.60000000000002" stroke="#777" stroke-width="0.7" />
<line x1="274.1218148359952" y1="28.6" x2="274.1218148359952" y2="29.8" stroke="#777" stroke-width="0.7" />
<line x1="276.0405098268086" y1="252.8" x2="276.0405098268086" y2="251.60000000000002" stroke="#777" stroke-width="0.7" />
<line x1="276.0405098268086" y1="28.6" x2="276.0405098268086" y2="29.8" stroke="#777" stroke-width="0.7" />
<line x1="277.7025590271891" y1="252.8" x2="277.7025590271891" y2="251.60000000000002" stroke="#777" stroke-width="0.7" />
<line x1="277.7025590271891" y1="28.6" x2="277.7025590271891" y2="29.8" stroke="#777" stroke-width="0.7" />
<line x1="279.16859032053105" y1="252.8" x2="279.16859032053105" y2="251.60000000000002" stroke="#777" stroke-width="0.7" />
<line x1="279.16859032053105" y1="28.6" x2="279.16859032053105" y2="29.8" stroke="#777" stroke-width="0.7" />
<line x1="280.48" y1="252.8" x2="280.48" y2="250.60000000000002" stroke="#777" stroke-width="0.7" />
<line x1="280.48" y1="28.6" x2="280.48" y2="30.8" stroke="#777" stroke-width="0.7" />
<line x1="289.1075196757297" y1="252.8" x2="289.1075196757297" y2="251.60000000000002" stroke="#777" stroke-width="0.7" />
<line x1="289.1075196757297" y1="28.6" x2="289.1075196757297" y2="29.8" stroke="#777" stroke-width="0.7" />
<line x1="294.1542951602655" y1="252.8" x2="294.1542951602655" y2="251.60000000000002" stroke="#777" stroke-width="0.7" />
<line x1="294.1542951602655" y1="28.6" x2="294.1542951602655" y2="29.8" stroke="#777" stroke-width="0.7" />
<line x1="297.7350393514594" y1="252.8" x2="297.7350393514594" y2="251.60000000000002" stroke="#777" stroke-width="0.7" />
<line x1="297.7350393514594" y1="28.6" x2="297.7350393514594" y2="29.8" stroke="#777" stroke-width="0.7" />
<line x1="300.5124803242703" y1="252.8" x2="300.5124803242703" y2="251.60000000000002" stroke="#777" stroke-width="0.7" />
<line x1="300.5124803242703" y1="28.6" x2="300.5124803242703" y2="29.8" stroke="#777" stroke-width="0.7" />
<line x1="302.78181483599525" y1="252.8" x2="302.78181483599525" y2="251.60000000000002" stroke="#777" stroke-width="0.7" />
<line x1="302.78181483599525" y1="28.6" x2="302.78181483599525" y2="29.8" stroke="#777" stroke-width="0.7" />
<line x1="304.7005098268086" y1="252.8" x2="304.7005098268086" y2="251.60000000000002" stroke="#777" stroke-width="0.7" />
<line x1="304.7005098268086" y1="28.6" x2="304.7005098268086" y2="29.8" stroke="#777" stroke-width="0.7" />
<line x1="306.36255902718915" y1="252.8" x2="306.36255902718915" y2="251.60000000000002" stroke="#777" stroke-width="0.7" />
<line x1="306.36255902718915" y1="28.6" x2="306.36255902718915" y2="29.8" stroke="#777" stroke-width="0.7" />
<line x1="307.8285903205311" y1="252.8" x2="307.8285903205311" y2="251.60000000000002" stroke="#777" stroke-width="0.7" />
<line x1="307.8285903205311" y1="28.6" x2="307.8285903205311" y2="29.8" stroke="#777" stroke-width="0.7" />
<line x1="309.14" y1="252.8" x2="309.14" y2="250.60000000000002" stroke="#777" stroke-width="0.7" />
<line x1="309.14" y1="28.6" x2="309.14" y2="30.8" stroke="#777" stroke-width="0.7" />
<line x1="317.7675196757297" y1="252.8" x2="317.7675196757297" y2="251.60000000000002" stroke="#777" stroke-width="0.7" />
<line x1="317.7675196757297" y1="28.6" x2="317.7675196757297" y2="29.8" stroke="#777" stroke-width="0.7" />
<line x1="322.81429516026554" y1="252.8" x2="322.81429516026554" y2="251.60000000000002" stroke="#777" stroke-width="0.7" />
<line x1="322.81429516026554" y1="28.6" x2="322.81429516026554" y2="29.8" stroke="#777" stroke-width="0.7" />
<line x1="326.39503935145945" y1="252.8" x2="326.39503935145945" y2="251.60000000000002" stroke="#777" stroke-width="0.7" />
<line x1="326.39503935145945" y1="28.6" x2="326.39503935145945" y2="29.8" stroke="#777" stroke-width="0.7" />
<line x1="329.1724803242703" y1="252.8" x2="329.1724803242703" y2="251.60000000000002" stroke="#777" stroke-width="0.7" />
<line x1="329.1724803242703" y1="28.6" x2="329.1724803242703" y2="29.8" stroke="#777" stroke-width="0.7" />
<line x1="331.4418148359953" y1="252.8" x2="331.4418148359953" y2="251.60000000000002" stroke="#777" stroke-width="0.7" />
<line x1="331.4418148359953" y1="28.6" x2="331.4418148359953" y2="29.8" stroke="#777" stroke-width="0.7" />
<line x1="333.36050982680865" y1="252.8" x2="333.36050982680865" y2="251.60000000000002" stroke="#777" stroke-width="0.7" />
<line x1="333.36050982680865" y1="28.6" x2="333.36050982680865" y2="29.8" stroke="#777" stroke-width="0.7" />
<line x1="335.0225590271891" y1="252.8" x2="335.0225590271891" y2="251.60000000000002" stroke="#777" stroke-width="0.7" />
<line x1="335.0225590271891" y1="28.6" x2="335.0225590271891" y2="29.8" stroke="#777" stroke-width="0.7" />
<line x1="336.4885903205311" y1="252.8" x2="336.4885903205311" y2="251.60000000000002" stroke="#777" stroke-width="0.7" />
<line x1="336.4885903205311" y1="28.6" x2="336.4885903205311" y2="29.8" stroke="#777" stroke-width="0.7" />
<text x="192.7" y="263" text-anchor="middle" style='font-family:"Liberation Sans",sans-serif;font-size:7px;font-weight:normal;fill:#000;stroke:#000;stroke-width:0.25px;'>10</text>
<text x="196.7" y="259.4" text-anchor="start" style='font-family:"Liberation Sans",sans-serif;font-size:4.6px;font-weight:normal;fill:#000;'>-5</text>
<text x="221.35999999999999" y="263" text-anchor="middle" style='font-family:"Liberation Sans",sans-serif;font-size:7px;font-weight:normal;fill:#000;stroke:#000;stroke-width:0.25px;'>10</text>
<text x="225.35999999999999" y="259.4" text-anchor="start" style='font-family:"Liberation Sans",sans-serif;font-size:4.6px;font-weight:normal;fill:#000;'>-4</text>
<text x="250.01999999999998" y="263" text-anchor="middle" style='font-family:"Liberation Sans",sans-serif;font-size:7px;font-weight:normal;fill:#000;stroke:#000;stroke-width:0.25px;'>10</text>
<text x="254.01999999999998" y="259.4" text-anchor="start" style='font-family:"Liberation Sans",sans-serif;font-size:4.6px;font-weight:normal;fill:#000;'>-3</text>
<text x="278.68" y="263" text-anchor="middle" style='font-family:"Liberation Sans",sans-serif;font-size:7px;font-weight:normal;fill:#000;stroke:#000;stroke-width:0.25px;'>10</text>
<text x="282.68" y="259.4" text-anchor="start" style='font-family:"Liberation Sans",sans-serif;font-size:4.6px;font-weight:normal;fill:#000;'>-2</text>
<text x="307.34" y="263" text-anchor="middle" style='font-family:"Liberation Sans",sans-serif;font-size:7px;font-weight:normal;fill:#000;stroke:#000;stroke-width:0.25px;'>10</text>
<text x="311.34" y="259.4" text-anchor="start" style='font-family:"Liberation Sans",sans-serif;font-size:4.6px;font-weight:normal;fill:#000;'>-1</text>
<text x="336.0" y="263" text-anchor="middle" style='font-family:"Liberation Sans",sans-serif;font-size:7px;font-weight:normal;fill:#000;stroke:#000;stroke-width:0.25px;'>10</text>
<text x="340.0" y="259.4" text-anchor="start" style='font-family:"Liberation Sans",sans-serif;font-size:4.6px;font-weight:normal;fill:#000;'>0</text>
<text x="266.15" y="273.7" text-anchor="middle" style='font-family:"Liberation Sans",sans-serif;font-size:9.3px;font-weight:bold;fill:#000;' textLength="108" lengthAdjust="spacingAndGlyphs">Transmission coefficient</text>
<path d="M194.5,75.8 C206.5,78.0 216.5,79.2 234.5,79.7" fill="none" stroke="#1c1c78" stroke-width="1.1"/>
<path d="M194.5,84.3 C206.5,81.6 216.5,80.39999999999999 234.5,79.89999999999999" fill="none" stroke="#2a2a9a" stroke-width="1.1"/>
<line x1="224.5" y1="79.8" x2="331.5" y2="79.8" stroke="#30309c" stroke-width="1.35" />
<line x1="234.5" y1="79.8" x2="269.5" y2="79.8" stroke="#1018d8" stroke-width="1.5" />
<path d="M194.5,172.6 C206.5,176.45 216.5,179.0 234.5,179.5" fill="none" stroke="#1c1c78" stroke-width="1.1"/>
<path d="M194.5,187.1 C206.5,182.75 216.5,180.2 234.5,179.7" fill="none" stroke="#2a2a9a" stroke-width="1.1"/>
<line x1="224.5" y1="179.6" x2="335.8" y2="179.6" stroke="#30309c" stroke-width="1.35" />
<line x1="234.5" y1="179.6" x2="269.5" y2="179.6" stroke="#1018d8" stroke-width="1.5" />
<circle cx="285.2" cy="67.0" r="10.1" fill="#cde5e1" stroke="#a8b8b8" stroke-width="0.8"/>
<text x="285.2" y="73.2" text-anchor="middle" style='font-family:"Liberation Sans",sans-serif;font-size:17px;font-weight:bold;fill:#000;'>1</text>
<circle cx="285.0" cy="165.6" r="10.1" fill="#cde5e1" stroke="#a8b8b8" stroke-width="0.8"/>
<text x="284.4" y="171.79999999999998" text-anchor="middle" style='font-family:"Liberation Sans",sans-serif;font-size:17px;font-weight:bold;fill:#000;'>-1</text>
<text x="236.0" y="232" style='font-family:"Liberation Serif",serif;font-size:16.5px;font-style:italic;fill:#434d6c'>V</text>
<text x="243.1" y="235.2" style='font-family:"Liberation Serif",serif;font-size:9.5px;font-style:italic;fill:#434d6c' textLength="12.6" lengthAdjust="spacingAndGlyphs">bias</text>
<text x="259.8" y="232" style='font-family:"Liberation Serif",serif;font-size:16.5px;fill:#434d6c'>=</text>
<text x="271.7" y="232" style='font-family:"Liberation Serif",serif;font-size:16.5px;fill:#434d6c' textLength="16.4" lengthAdjust="spacingAndGlyphs">0.4</text>
<text x="289.3" y="232" style='font-family:"Liberation Serif",serif;font-size:16.5px;font-style:italic;fill:#434d6c' textLength="9.6" lengthAdjust="spacingAndGlyphs">V</text>
<rect x="537.8" y="29.9" width="142.80000000000007" height="222.7" fill="#fff" stroke="#888" stroke-width="0.9"/>
<line x1="537.8" y1="63.2" x2="540.0" y2="63.2" stroke="#777" stroke-width="0.8" />
<line x1="678.4" y1="63.2" x2="680.6" y2="63.2" stroke="#777" stroke-width="0.8" />
<line x1="537.8" y1="107.5" x2="540.0" y2="107.5" stroke="#777" stroke-width="0.8" />
<line x1="678.4" y1="107.5" x2="680.6" y2="107.5" stroke="#777" stroke-width="0.8" />
<line x1="537.8" y1="151.8" x2="540.0" y2="151.8" stroke="#777" stroke-width="0.8" />
<line x1="678.4" y1="151.8" x2="680.6" y2="151.8" stroke="#777" stroke-width="0.8" />
<line x1="537.8" y1="196.10000000000002" x2="540.0" y2="196.10000000000002" stroke="#777" stroke-width="0.8" />
<line x1="678.4" y1="196.10000000000002" x2="680.6" y2="196.10000000000002" stroke="#777" stroke-width="0.8" />
<line x1="537.8" y1="240.40000000000003" x2="540.0" y2="240.40000000000003" stroke="#777" stroke-width="0.8" />
<line x1="678.4" y1="240.40000000000003" x2="680.6" y2="240.40000000000003" stroke="#777" stroke-width="0.8" />
<line x1="537.8" y1="252.6" x2="537.8" y2="250.4" stroke="#777" stroke-width="0.7" />
<line x1="537.8" y1="29.9" x2="537.8" y2="32.1" stroke="#777" stroke-width="0.7" />
<line x1="546.3974166761633" y1="252.6" x2="546.3974166761633" y2="251.4" stroke="#777" stroke-width="0.7" />
<line x1="546.3974166761633" y1="29.9" x2="546.3974166761633" y2="31.099999999999998" stroke="#777" stroke-width="0.7" />
<line x1="551.4265830347936" y1="252.6" x2="551.4265830347936" y2="251.4" stroke="#777" stroke-width="0.7" />
<line x1="551.4265830347936" y1="29.9" x2="551.4265830347936" y2="31.099999999999998" stroke="#777" stroke-width="0.7" />
<line x1="554.9948333523266" y1="252.6" x2="554.9948333523266" y2="251.4" stroke="#777" stroke-width="0.7" />
<line x1="554.9948333523266" y1="29.9" x2="554.9948333523266" y2="31.099999999999998" stroke="#777" stroke-width="0.7" />
<line x1="557.7625833238367" y1="252.6" x2="557.7625833238367" y2="251.4" stroke="#777" stroke-width="0.7" />
<line x1="557.7625833238367" y1="29.9" x2="557.7625833238367" y2="31.099999999999998" stroke="#777" stroke-width="0.7" />
<line x1="560.0239997109568" y1="252.6" x2="560.0239997109568" y2="251.4" stroke="#777" stroke-width="0.7" />
<line x1="560.0239997109568" y1="29.9" x2="560.0239997109568" y2="31.099999999999998" stroke="#777" stroke-width="0.7" />
<line x1="561.9360000228071" y1="252.6" x2="561.9360000228071" y2="251.4" stroke="#777" stroke-width="0.7" />
<line x1="561.9360000228071" y1="29.9" x2="561.9360000228071" y2="31.099999999999998" stroke="#777" stroke-width="0.7" />
<line x1="563.5922500284898" y1="252.6" x2="563.5922500284898" y2="251.4" stroke="#777" stroke-width="0.7" />
<line x1="563.5922500284898" y1="29.9" x2="563.5922500284898" y2="31.099999999999998" stroke="#777" stroke-width="0.7" />
<line x1="565.0531660695871" y1="252.6" x2="565.0531660695871" y2="251.4" stroke="#777" stroke-width="0.7" />
<line x1="565.0531660695871" y1="29.9" x2="565.0531660695871" y2="31.099999999999998" stroke="#777" stroke-width="0.7" />
<line x1="566.36" y1="252.6" x2="566.36" y2="250.4" stroke="#777" stroke-width="0.7" />
<line x1="566.36" y1="29.9" x2="566.36" y2="32.1" stroke="#777" stroke-width="0.7" />
<line x1="574.9574166761632" y1="252.6" x2="574.9574166761632" y2="251.4" stroke="#777" stroke-width="0.7" />
<line x1="574.9574166761632" y1="29.9" x2="574.9574166761632" y2="31.099999999999998" stroke="#777" stroke-width="0.7" />
<line x1="579.9865830347935" y1="252.6" x2="579.9865830347935" y2="251.4" stroke="#777" stroke-width="0.7" />
<line x1="579.9865830347935" y1="29.9" x2="579.9865830347935" y2="31.099999999999998" stroke="#777" stroke-width="0.7" />
<line x1="583.5548333523266" y1="252.6" x2="583.5548333523266" y2="251.4" stroke="#777" stroke-width="0.7" />
<line x1="583.5548333523266" y1="29.9" x2="583.5548333523266" y2="31.099999999999998" stroke="#777" stroke-width="0.7" />
<line x1="586.3225833238366" y1="252.6" x2="586.3225833238366" y2="251.4" stroke="#777" stroke-width="0.7" />
<line x1="586.3225833238366" y1="29.9" x2="586.3225833238366" y2="31.099999999999998" stroke="#777" stroke-width="0.7" />
<line x1="588.5839997109568" y1="252.6" x2="588.5839997109568" y2="251.4" stroke="#777" stroke-width="0.7" />
<line x1="588.5839997109568" y1="29.9" x2="588.5839997109568" y2="31.099999999999998" stroke="#777" stroke-width="0.7" />
<line x1="590.4960000228072" y1="252.6" x2="590.4960000228072" y2="251.4" stroke="#777" stroke-width="0.7" />
<line x1="590.4960000228072" y1="29.9" x2="590.4960000228072" y2="31.099999999999998" stroke="#777" stroke-width="0.7" />
<line x1="592.1522500284899" y1="252.6" x2="592.1522500284899" y2="251.4" stroke="#777" stroke-width="0.7" />
<line x1="592.1522500284899" y1="29.9" x2="592.1522500284899" y2="31.099999999999998" stroke="#777" stroke-width="0.7" />
<line x1="593.6131660695871" y1="252.6" x2="593.6131660695871" y2="251.4" stroke="#777" stroke-width="0.7" />
<line x1="593.6131660695871" y1="29.9" x2="593.6131660695871" y2="31.099999999999998" stroke="#777" stroke-width="0.7" />
<line x1="594.92" y1="252.6" x2="594.92" y2="250.4" stroke="#777" stroke-width="0.7" />
<line x1="594.92" y1="29.9" x2="594.92" y2="32.1" stroke="#777" stroke-width="0.7" />
<line x1="603.5174166761633" y1="252.6" x2="603.5174166761633" y2="251.4" stroke="#777" stroke-width="0.7" />
<line x1="603.5174166761633" y1="29.9" x2="603.5174166761633" y2="31.099999999999998" stroke="#777" stroke-width="0.7" />
<line x1="608.5465830347936" y1="252.6" x2="608.5465830347936" y2="251.4" stroke="#777" stroke-width="0.7" />
<line x1="608.5465830347936" y1="29.9" x2="608.5465830347936" y2="31.099999999999998" stroke="#777" stroke-width="0.7" />
<line x1="612.1148333523266" y1="252.6" x2="612.1148333523266" y2="251.4" stroke="#777" stroke-width="0.7" />
<line x1="612.1148333523266" y1="29.9" x2="612.1148333523266" y2="31.099999999999998" stroke="#777" stroke-width="0.7" />
<line x1="614.8825833238367" y1="252.6" x2="614.8825833238367" y2="251.4" stroke="#777" stroke-width="0.7" />
<line x1="614.8825833238367" y1="29.9" x2="614.8825833238367" y2="31.099999999999998" stroke="#777" stroke-width="0.7" />
<line x1="617.1439997109569" y1="252.6" x2="617.1439997109569" y2="251.4" stroke="#777" stroke-width="0.7" />
<line x1="617.1439997109569" y1="29.9" x2="617.1439997109569" y2="31.099999999999998" stroke="#777" stroke-width="0.7" />
<line x1="619.0560000228072" y1="252.6" x2="619.0560000228072" y2="251.4" stroke="#777" stroke-width="0.7" />
<line x1="619.0560000228072" y1="29.9" x2="619.0560000228072" y2="31.099999999999998" stroke="#777" stroke-width="0.7" />
<line x1="620.71225002849" y1="252.6" x2="620.71225002849" y2="251.4" stroke="#777" stroke-width="0.7" />
<line x1="620.71225002849" y1="29.9" x2="620.71225002849" y2="31.099999999999998" stroke="#777" stroke-width="0.7" />
<line x1="622.1731660695871" y1="252.6" x2="622.1731660695871" y2="251.4" stroke="#777" stroke-width="0.7" />
<line x1="622.1731660695871" y1="29.9" x2="622.1731660695871" y2="31.099999999999998" stroke="#777" stroke-width="0.7" />
<line x1="623.48" y1="252.6" x2="623.48" y2="250.4" stroke="#777" stroke-width="0.7" />
<line x1="623.48" y1="29.9" x2="623.48" y2="32.1" stroke="#777" stroke-width="0.7" />
<line x1="632.0774166761632" y1="252.6" x2="632.0774166761632" y2="251.4" stroke="#777" stroke-width="0.7" />
<line x1="632.0774166761632" y1="29.9" x2="632.0774166761632" y2="31.099999999999998" stroke="#777" stroke-width="0.7" />
<line x1="637.1065830347935" y1="252.6" x2="637.1065830347935" y2="251.4" stroke="#777" stroke-width="0.7" />
<line x1="637.1065830347935" y1="29.9" x2="637.1065830347935" y2="31.099999999999998" stroke="#777" stroke-width="0.7" />
<line x1="640.6748333523266" y1="252.6" x2="640.6748333523266" y2="251.4" stroke="#777" stroke-width="0.7" />
<line x1="640.6748333523266" y1="29.9" x2="640.6748333523266" y2="31.099999999999998" stroke="#777" stroke-width="0.7" />
<line x1="643.4425833238367" y1="252.6" x2="643.4425833238367" y2="251.4" stroke="#777" stroke-width="0.7" />
<line x1="643.4425833238367" y1="29.9" x2="643.4425833238367" y2="31.099999999999998" stroke="#777" stroke-width="0.7" />
<line x1="645.7039997109569" y1="252.6" x2="645.7039997109569" y2="251.4" stroke="#777" stroke-width="0.7" />
<line x1="645.7039997109569" y1="29.9" x2="645.7039997109569" y2="31.099999999999998" stroke="#777" stroke-width="0.7" />
<line x1="647.6160000228072" y1="252.6" x2="647.6160000228072" y2="251.4" stroke="#777" stroke-width="0.7" />
<line x1="647.6160000228072" y1="29.9" x2="647.6160000228072" y2="31.099999999999998" stroke="#777" stroke-width="0.7" />
<line x1="649.2722500284899" y1="252.6" x2="649.2722500284899" y2="251.4" stroke="#777" stroke-width="0.7" />
<line x1="649.2722500284899" y1="29.9" x2="649.2722500284899" y2="31.099999999999998" stroke="#777" stroke-width="0.7" />
<line x1="650.7331660695871" y1="252.6" x2="650.7331660695871" y2="251.4" stroke="#777" stroke-width="0.7" />
<line x1="650.7331660695871" y1="29.9" x2="650.7331660695871" y2="31.099999999999998" stroke="#777" stroke-width="0.7" />
<line x1="652.04" y1="252.6" x2="652.04" y2="250.4" stroke="#777" stroke-width="0.7" />
<line x1="652.04" y1="29.9" x2="652.04" y2="32.1" stroke="#777" stroke-width="0.7" />
<line x1="660.6374166761633" y1="252.6" x2="660.6374166761633" y2="251.4" stroke="#777" stroke-width="0.7" />
<line x1="660.6374166761633" y1="29.9" x2="660.6374166761633" y2="31.099999999999998" stroke="#777" stroke-width="0.7" />
<line x1="665.6665830347936" y1="252.6" x2="665.6665830347936" y2="251.4" stroke="#777" stroke-width="0.7" />
<line x1="665.6665830347936" y1="29.9" x2="665.6665830347936" y2="31.099999999999998" stroke="#777" stroke-width="0.7" />
<line x1="669.2348333523266" y1="252.6" x2="669.2348333523266" y2="251.4" stroke="#777" stroke-width="0.7" />
<line x1="669.2348333523266" y1="29.9" x2="669.2348333523266" y2="31.099999999999998" stroke="#777" stroke-width="0.7" />
<line x1="672.0025833238367" y1="252.6" x2="672.0025833238367" y2="251.4" stroke="#777" stroke-width="0.7" />
<line x1="672.0025833238367" y1="29.9" x2="672.0025833238367" y2="31.099999999999998" stroke="#777" stroke-width="0.7" />
<line x1="674.2639997109569" y1="252.6" x2="674.2639997109569" y2="251.4" stroke="#777" stroke-width="0.7" />
<line x1="674.2639997109569" y1="29.9" x2="674.2639997109569" y2="31.099999999999998" stroke="#777" stroke-width="0.7" />
<line x1="676.1760000228072" y1="252.6" x2="676.1760000228072" y2="251.4" stroke="#777" stroke-width="0.7" />
<line x1="676.1760000228072" y1="29.9" x2="676.1760000228072" y2="31.099999999999998" stroke="#777" stroke-width="0.7" />
<line x1="677.83225002849" y1="252.6" x2="677.83225002849" y2="251.4" stroke="#777" stroke-width="0.7" />
<line x1="677.83225002849" y1="29.9" x2="677.83225002849" y2="31.099999999999998" stroke="#777" stroke-width="0.7" />
<line x1="679.2931660695872" y1="252.6" x2="679.2931660695872" y2="251.4" stroke="#777" stroke-width="0.7" />
<line x1="679.2931660695872" y1="29.9" x2="679.2931660695872" y2="31.099999999999998" stroke="#777" stroke-width="0.7" />
<text x="536.0" y="262.5" text-anchor="middle" style='font-family:"Liberation Sans",sans-serif;font-size:7px;font-weight:normal;fill:#000;stroke:#000;stroke-width:0.25px;'>10</text>
<text x="540.0" y="258.9" text-anchor="start" style='font-family:"Liberation Sans",sans-serif;font-size:4.6px;font-weight:normal;fill:#000;'>-5</text>
<text x="564.5600000000001" y="262.5" text-anchor="middle" style='font-family:"Liberation Sans",sans-serif;font-size:7px;font-weight:normal;fill:#000;stroke:#000;stroke-width:0.25px;'>10</text>
<text x="568.5600000000001" y="258.9" text-anchor="start" style='font-family:"Liberation Sans",sans-serif;font-size:4.6px;font-weight:normal;fill:#000;'>-4</text>
<text x="593.12" y="262.5" text-anchor="middle" style='font-family:"Liberation Sans",sans-serif;font-size:7px;font-weight:normal;fill:#000;stroke:#000;stroke-width:0.25px;'>10</text>
<text x="597.12" y="258.9" text-anchor="start" style='font-family:"Liberation Sans",sans-serif;font-size:4.6px;font-weight:normal;fill:#000;'>-3</text>
<text x="621.6800000000001" y="262.5" text-anchor="middle" style='font-family:"Liberation Sans",sans-serif;font-size:7px;font-weight:normal;fill:#000;stroke:#000;stroke-width:0.25px;'>10</text>
<text x="625.6800000000001" y="258.9" text-anchor="start" style='font-family:"Liberation Sans",sans-serif;font-size:4.6px;font-weight:normal;fill:#000;'>-2</text>
<text x="650.24" y="262.5" text-anchor="middle" style='font-family:"Liberation Sans",sans-serif;font-size:7px;font-weight:normal;fill:#000;stroke:#000;stroke-width:0.25px;'>10</text>
<text x="654.24" y="258.9" text-anchor="start" style='font-family:"Liberation Sans",sans-serif;font-size:4.6px;font-weight:normal;fill:#000;'>-1</text>
<text x="678.8000000000001" y="262.5" text-anchor="middle" style='font-family:"Liberation Sans",sans-serif;font-size:7px;font-weight:normal;fill:#000;stroke:#000;stroke-width:0.25px;'>10</text>
<text x="682.8000000000001" y="258.9" text-anchor="start" style='font-family:"Liberation Sans",sans-serif;font-size:4.6px;font-weight:normal;fill:#000;'>0</text>
<text x="609.2" y="273.7" text-anchor="middle" style='font-family:"Liberation Sans",sans-serif;font-size:9.3px;font-weight:bold;fill:#000;' textLength="108" lengthAdjust="spacingAndGlyphs">Transmission coefficient</text>
<text x="534.8" y="65.7" text-anchor="end" style='font-family:"Liberation Sans",sans-serif;font-size:7.2px;font-weight:normal;fill:#000;stroke:#000;stroke-width:0.3px;'>0</text>
<text x="534.8" y="110.0" text-anchor="end" style='font-family:"Liberation Sans",sans-serif;font-size:7.2px;font-weight:normal;fill:#000;stroke:#000;stroke-width:0.3px;'>-0.2</text>
<text x="534.8" y="154.3" text-anchor="end" style='font-family:"Liberation Sans",sans-serif;font-size:7.2px;font-weight:normal;fill:#000;stroke:#000;stroke-width:0.3px;'>-0.4</text>
<text x="534.8" y="198.60000000000002" text-anchor="end" style='font-family:"Liberation Sans",sans-serif;font-size:7.2px;font-weight:normal;fill:#000;stroke:#000;stroke-width:0.3px;'>-0.6</text>
<text x="534.8" y="242.90000000000003" text-anchor="end" style='font-family:"Liberation Sans",sans-serif;font-size:7.2px;font-weight:normal;fill:#000;stroke:#000;stroke-width:0.3px;'>-0.8</text>
<path d="M537.8,34.0 C549.8,36.035000000000004 559.8,37.1 577.8,37.6" fill="none" stroke="#1c1c78" stroke-width="1.1"/>
<path d="M537.8,41.900000000000006 C549.8,39.365 559.8,38.300000000000004 577.8,37.800000000000004" fill="none" stroke="#2a2a9a" stroke-width="1.1"/>
<line x1="567.8" y1="37.7" x2="680" y2="37.7" stroke="#30309c" stroke-width="1.35" />
<line x1="577.8" y1="37.7" x2="612.8" y2="37.7" stroke="#1018d8" stroke-width="1.5" />
<path d="M537.8,193.9 C549.8,196.65 559.8,198.3 577.8,198.8" fill="none" stroke="#1c1c78" stroke-width="1.1"/>
<path d="M537.8,204.4 C549.8,201.15 559.8,199.5 577.8,199.0" fill="none" stroke="#2a2a9a" stroke-width="1.1"/>
<line x1="567.8" y1="198.9" x2="678" y2="198.9" stroke="#30309c" stroke-width="1.35" />
<line x1="577.8" y1="198.9" x2="612.8" y2="198.9" stroke="#1018d8" stroke-width="1.5" />
<circle cx="638.7" cy="49" r="10.1" fill="#cde5e1" stroke="#a8b8b8" stroke-width="0.8"/>
<text x="638.7" y="55.2" text-anchor="middle" style='font-family:"Liberation Sans",sans-serif;font-size:17px;font-weight:bold;fill:#000;'>2</text>
<circle cx="638.5" cy="186.3" r="10.1" fill="#cde5e1" stroke="#a8b8b8" stroke-width="0.8"/>
<text x="637.9" y="192.5" text-anchor="middle" style='font-family:"Liberation Sans",sans-serif;font-size:17px;font-weight:bold;fill:#000;'>-1</text>
<text x="575.5" y="229.5" style='font-family:"Liberation Serif",serif;font-size:16.5px;font-style:italic;fill:#434d6c'>V</text>
<text x="582.6" y="232.7" style='font-family:"Liberation Serif",serif;font-size:9.5px;font-style:italic;fill:#434d6c' textLength="12.6" lengthAdjust="spacingAndGlyphs">bias</text>
<text x="599.3" y="229.5" style='font-family:"Liberation Serif",serif;font-size:16.5px;fill:#434d6c'>=</text>
<text x="611.2" y="229.5" style='font-family:"Liberation Serif",serif;font-size:16.5px;fill:#434d6c' textLength="16.4" lengthAdjust="spacingAndGlyphs">0.6</text>
<text x="628.8" y="229.5" style='font-family:"Liberation Serif",serif;font-size:16.5px;font-style:italic;fill:#434d6c' textLength="9.6" lengthAdjust="spacingAndGlyphs">V</text>
<rect x="194.5" y="285.2" width="142.8" height="223.90000000000003" fill="#fff" stroke="#888" stroke-width="0.9"/>
<line x1="194.5" y1="315.3" x2="196.7" y2="315.3" stroke="#777" stroke-width="0.8" />
<line x1="335.1" y1="315.3" x2="337.3" y2="315.3" stroke="#777" stroke-width="0.8" />
<line x1="194.5" y1="356.40000000000003" x2="196.7" y2="356.40000000000003" stroke="#777" stroke-width="0.8" />
<line x1="335.1" y1="356.40000000000003" x2="337.3" y2="356.40000000000003" stroke="#777" stroke-width="0.8" />
<line x1="194.5" y1="397.5" x2="196.7" y2="397.5" stroke="#777" stroke-width="0.8" />
<line x1="335.1" y1="397.5" x2="337.3" y2="397.5" stroke="#777" stroke-width="0.8" />
<line x1="194.5" y1="438.6" x2="196.7" y2="438.6" stroke="#777" stroke-width="0.8" />
<line x1="335.1" y1="438.6" x2="337.3" y2="438.6" stroke="#777" stroke-width="0.8" />
<line x1="194.5" y1="479.70000000000005" x2="196.7" y2="479.70000000000005" stroke="#777" stroke-width="0.8" />
<line x1="335.1" y1="479.70000000000005" x2="337.3" y2="479.70000000000005" stroke="#777" stroke-width="0.8" />
<line x1="194.5" y1="509.1" x2="194.5" y2="506.90000000000003" stroke="#777" stroke-width="0.7" />
<line x1="194.5" y1="285.2" x2="194.5" y2="287.4" stroke="#777" stroke-width="0.7" />
<line x1="203.0974166761633" y1="509.1" x2="203.0974166761633" y2="507.90000000000003" stroke="#777" stroke-width="0.7" />
<line x1="203.0974166761633" y1="285.2" x2="203.0974166761633" y2="286.4" stroke="#777" stroke-width="0.7" />
<line x1="208.12658303479355" y1="509.1" x2="208.12658303479355" y2="507.90000000000003" stroke="#777" stroke-width="0.7" />
<line x1="208.12658303479355" y1="285.2" x2="208.12658303479355" y2="286.4" stroke="#777" stroke-width="0.7" />
<line x1="211.6948333523266" y1="509.1" x2="211.6948333523266" y2="507.90000000000003" stroke="#777" stroke-width="0.7" />
<line x1="211.6948333523266" y1="285.2" x2="211.6948333523266" y2="286.4" stroke="#777" stroke-width="0.7" />
<line x1="214.4625833238367" y1="509.1" x2="214.4625833238367" y2="507.90000000000003" stroke="#777" stroke-width="0.7" />
<line x1="214.4625833238367" y1="285.2" x2="214.4625833238367" y2="286.4" stroke="#777" stroke-width="0.7" />
<line x1="216.72399971095686" y1="509.1" x2="216.72399971095686" y2="507.90000000000003" stroke="#777" stroke-width="0.7" />
<line x1="216.72399971095686" y1="285.2" x2="216.72399971095686" y2="286.4" stroke="#777" stroke-width="0.7" />
<line x1="218.63600002280717" y1="509.1" x2="218.63600002280717" y2="507.90000000000003" stroke="#777" stroke-width="0.7" />
<line x1="218.63600002280717" y1="285.2" x2="218.63600002280717" y2="286.4" stroke="#777" stroke-width="0.7" />
<line x1="220.29225002848992" y1="509.1" x2="220.29225002848992" y2="507.90000000000003" stroke="#777" stroke-width="0.7" />
<line x1="220.29225002848992" y1="285.2" x2="220.29225002848992" y2="286.4" stroke="#777" stroke-width="0.7" />
<line x1="221.7531660695871" y1="509.1" x2="221.7531660695871" y2="507.90000000000003" stroke="#777" stroke-width="0.7" />
<line x1="221.7531660695871" y1="285.2" x2="221.7531660695871" y2="286.4" stroke="#777" stroke-width="0.7" />
<line x1="223.06" y1="509.1" x2="223.06" y2="506.90000000000003" stroke="#777" stroke-width="0.7" />
<line x1="223.06" y1="285.2" x2="223.06" y2="287.4" stroke="#777" stroke-width="0.7" />
<line x1="231.6574166761633" y1="509.1" x2="231.6574166761633" y2="507.90000000000003" stroke="#777" stroke-width="0.7" />
<line x1="231.6574166761633" y1="285.2" x2="231.6574166761633" y2="286.4" stroke="#777" stroke-width="0.7" />
<line x1="236.68658303479356" y1="509.1" x2="236.68658303479356" y2="507.90000000000003" stroke="#777" stroke-width="0.7" />
<line x1="236.68658303479356" y1="285.2" x2="236.68658303479356" y2="286.4" stroke="#777" stroke-width="0.7" />
<line x1="240.2548333523266" y1="509.1" x2="240.2548333523266" y2="507.90000000000003" stroke="#777" stroke-width="0.7" />
<line x1="240.2548333523266" y1="285.2" x2="240.2548333523266" y2="286.4" stroke="#777" stroke-width="0.7" />
<line x1="243.0225833238367" y1="509.1" x2="243.0225833238367" y2="507.90000000000003" stroke="#777" stroke-width="0.7" />
<line x1="243.0225833238367" y1="285.2" x2="243.0225833238367" y2="286.4" stroke="#777" stroke-width="0.7" />
<line x1="245.28399971095686" y1="509.1" x2="245.28399971095686" y2="507.90000000000003" stroke="#777" stroke-width="0.7" />
<line x1="245.28399971095686" y1="285.2" x2="245.28399971095686" y2="286.4" stroke="#777" stroke-width="0.7" />
<line x1="247.1960000228072" y1="509.1" x2="247.1960000228072" y2="507.90000000000003" stroke="#777" stroke-width="0.7" />
<line x1="247.1960000228072" y1="285.2" x2="247.1960000228072" y2="286.4" stroke="#777" stroke-width="0.7" />
<line x1="248.85225002848992" y1="509.1" x2="248.85225002848992" y2="507.90000000000003" stroke="#777" stroke-width="0.7" />
<line x1="248.85225002848992" y1="285.2" x2="248.85225002848992" y2="286.4" stroke="#777" stroke-width="0.7" />
<line x1="250.3131660695871" y1="509.1" x2="250.3131660695871" y2="507.90000000000003" stroke="#777" stroke-width="0.7" />
<line x1="250.3131660695871" y1="285.2" x2="250.3131660695871" y2="286.4" stroke="#777" stroke-width="0.7" />
<line x1="251.62" y1="509.1" x2="251.62" y2="506.90000000000003" stroke="#777" stroke-width="0.7" />
<line x1="251.62" y1="285.2" x2="251.62" y2="287.4" stroke="#777" stroke-width="0.7" />
<line x1="260.21741667616334" y1="509.1" x2="260.21741667616334" y2="507.90000000000003" stroke="#777" stroke-width="0.7" />
<line x1="260.21741667616334" y1="285.2" x2="260.21741667616334" y2="286.4" stroke="#777" stroke-width="0.7" />
<line x1="265.24658303479356" y1="509.1" x2="265.24658303479356" y2="507.90000000000003" stroke="#777" stroke-width="0.7" />
<line x1="265.24658303479356" y1="285.2" x2="265.24658303479356" y2="286.4" stroke="#777" stroke-width="0.7" />
<line x1="268.8148333523266" y1="509.1" x2="268.8148333523266" y2="507.90000000000003" stroke="#777" stroke-width="0.7" />
<line x1="268.8148333523266" y1="285.2" x2="268.8148333523266" y2="286.4" stroke="#777" stroke-width="0.7" />
<line x1="271.58258332383673" y1="509.1" x2="271.58258332383673" y2="507.90000000000003" stroke="#777" stroke-width="0.7" />
<line x1="271.58258332383673" y1="285.2" x2="271.58258332383673" y2="286.4" stroke="#777" stroke-width="0.7" />
<line x1="273.8439997109569" y1="509.1" x2="273.8439997109569" y2="507.90000000000003" stroke="#777" stroke-width="0.7" />
<line x1="273.8439997109569" y1="285.2" x2="273.8439997109569" y2="286.4" stroke="#777" stroke-width="0.7" />
<line x1="275.7560000228072" y1="509.1" x2="275.7560000228072" y2="507.90000000000003" stroke="#777" stroke-width="0.7" />
<line x1="275.7560000228072" y1="285.2" x2="275.7560000228072" y2="286.4" stroke="#777" stroke-width="0.7" />
<line x1="277.4122500284899" y1="509.1" x2="277.4122500284899" y2="507.90000000000003" stroke="#777" stroke-width="0.7" />
<line x1="277.4122500284899" y1="285.2" x2="277.4122500284899" y2="286.4" stroke="#777" stroke-width="0.7" />
<line x1="278.8731660695871" y1="509.1" x2="278.8731660695871" y2="507.90000000000003" stroke="#777" stroke-width="0.7" />
<line x1="278.8731660695871" y1="285.2" x2="278.8731660695871" y2="286.4" stroke="#777" stroke-width="0.7" />
<line x1="280.18" y1="509.1" x2="280.18" y2="506.90000000000003" stroke="#777" stroke-width="0.7" />
<line x1="280.18" y1="285.2" x2="280.18" y2="287.4" stroke="#777" stroke-width="0.7" />
<line x1="288.7774166761633" y1="509.1" x2="288.7774166761633" y2="507.90000000000003" stroke="#777" stroke-width="0.7" />
<line x1="288.7774166761633" y1="285.2" x2="288.7774166761633" y2="286.4" stroke="#777" stroke-width="0.7" />
<line x1="293.80658303479356" y1="509.1" x2="293.80658303479356" y2="507.90000000000003" stroke="#777" stroke-width="0.7" />
<line x1="293.80658303479356" y1="285.2" x2="293.80658303479356" y2="286.4" stroke="#777" stroke-width="0.7" />
<line x1="297.3748333523266" y1="509.1" x2="297.3748333523266" y2="507.90000000000003" stroke="#777" stroke-width="0.7" />
<line x1="297.3748333523266" y1="285.2" x2="297.3748333523266" y2="286.4" stroke="#777" stroke-width="0.7" />
<line x1="300.1425833238367" y1="509.1" x2="300.1425833238367" y2="507.90000000000003" stroke="#777" stroke-width="0.7" />
<line x1="300.1425833238367" y1="285.2" x2="300.1425833238367" y2="286.4" stroke="#777" stroke-width="0.7" />
<line x1="302.4039997109569" y1="509.1" x2="302.4039997109569" y2="507.90000000000003" stroke="#777" stroke-width="0.7" />
<line x1="302.4039997109569" y1="285.2" x2="302.4039997109569" y2="286.4" stroke="#777" stroke-width="0.7" />
<line x1="304.3160000228072" y1="509.1" x2="304.3160000228072" y2="507.90000000000003" stroke="#777" stroke-width="0.7" />
<line x1="304.3160000228072" y1="285.2" x2="304.3160000228072" y2="286.4" stroke="#777" stroke-width="0.7" />
<line x1="305.97225002848995" y1="509.1" x2="305.97225002848995" y2="507.90000000000003" stroke="#777" stroke-width="0.7" />
<line x1="305.97225002848995" y1="285.2" x2="305.97225002848995" y2="286.4" stroke="#777" stroke-width="0.7" />
<line x1="307.4331660695871" y1="509.1" x2="307.4331660695871" y2="507.90000000000003" stroke="#777" stroke-width="0.7" />
<line x1="307.4331660695871" y1="285.2" x2="307.4331660695871" y2="286.4" stroke="#777" stroke-width="0.7" />
<line x1="308.74" y1="509.1" x2="308.74" y2="506.90000000000003" stroke="#777" stroke-width="0.7" />
<line x1="308.74" y1="285.2" x2="308.74" y2="287.4" stroke="#777" stroke-width="0.7" />
<line x1="317.33741667616334" y1="509.1" x2="317.33741667616334" y2="507.90000000000003" stroke="#777" stroke-width="0.7" />
<line x1="317.33741667616334" y1="285.2" x2="317.33741667616334" y2="286.4" stroke="#777" stroke-width="0.7" />
<line x1="322.36658303479356" y1="509.1" x2="322.36658303479356" y2="507.90000000000003" stroke="#777" stroke-width="0.7" />
<line x1="322.36658303479356" y1="285.2" x2="322.36658303479356" y2="286.4" stroke="#777" stroke-width="0.7" />
<line x1="325.9348333523266" y1="509.1" x2="325.9348333523266" y2="507.90000000000003" stroke="#777" stroke-width="0.7" />
<line x1="325.9348333523266" y1="285.2" x2="325.9348333523266" y2="286.4" stroke="#777" stroke-width="0.7" />
<line x1="328.70258332383673" y1="509.1" x2="328.70258332383673" y2="507.90000000000003" stroke="#777" stroke-width="0.7" />
<line x1="328.70258332383673" y1="285.2" x2="328.70258332383673" y2="286.4" stroke="#777" stroke-width="0.7" />
<line x1="330.96399971095684" y1="509.1" x2="330.96399971095684" y2="507.90000000000003" stroke="#777" stroke-width="0.7" />
<line x1="330.96399971095684" y1="285.2" x2="330.96399971095684" y2="286.4" stroke="#777" stroke-width="0.7" />
<line x1="332.87600002280715" y1="509.1" x2="332.87600002280715" y2="507.90000000000003" stroke="#777" stroke-width="0.7" />
<line x1="332.87600002280715" y1="285.2" x2="332.87600002280715" y2="286.4" stroke="#777" stroke-width="0.7" />
<line x1="334.5322500284899" y1="509.1" x2="334.5322500284899" y2="507.90000000000003" stroke="#777" stroke-width="0.7" />
<line x1="334.5322500284899" y1="285.2" x2="334.5322500284899" y2="286.4" stroke="#777" stroke-width="0.7" />
<line x1="335.9931660695871" y1="509.1" x2="335.9931660695871" y2="507.90000000000003" stroke="#777" stroke-width="0.7" />
<line x1="335.9931660695871" y1="285.2" x2="335.9931660695871" y2="286.4" stroke="#777" stroke-width="0.7" />
<text x="192.7" y="519.5" text-anchor="middle" style='font-family:"Liberation Sans",sans-serif;font-size:7px;font-weight:normal;fill:#000;stroke:#000;stroke-width:0.25px;'>10</text>
<text x="196.7" y="515.9" text-anchor="start" style='font-family:"Liberation Sans",sans-serif;font-size:4.6px;font-weight:normal;fill:#000;'>-5</text>
<text x="221.26" y="519.5" text-anchor="middle" style='font-family:"Liberation Sans",sans-serif;font-size:7px;font-weight:normal;fill:#000;stroke:#000;stroke-width:0.25px;'>10</text>
<text x="225.26" y="515.9" text-anchor="start" style='font-family:"Liberation Sans",sans-serif;font-size:4.6px;font-weight:normal;fill:#000;'>-4</text>
<text x="249.82" y="519.5" text-anchor="middle" style='font-family:"Liberation Sans",sans-serif;font-size:7px;font-weight:normal;fill:#000;stroke:#000;stroke-width:0.25px;'>10</text>
<text x="253.82" y="515.9" text-anchor="start" style='font-family:"Liberation Sans",sans-serif;font-size:4.6px;font-weight:normal;fill:#000;'>-3</text>
<text x="278.38" y="519.5" text-anchor="middle" style='font-family:"Liberation Sans",sans-serif;font-size:7px;font-weight:normal;fill:#000;stroke:#000;stroke-width:0.25px;'>10</text>
<text x="282.38" y="515.9" text-anchor="start" style='font-family:"Liberation Sans",sans-serif;font-size:4.6px;font-weight:normal;fill:#000;'>-2</text>
<text x="306.94" y="519.5" text-anchor="middle" style='font-family:"Liberation Sans",sans-serif;font-size:7px;font-weight:normal;fill:#000;stroke:#000;stroke-width:0.25px;'>10</text>
<text x="310.94" y="515.9" text-anchor="start" style='font-family:"Liberation Sans",sans-serif;font-size:4.6px;font-weight:normal;fill:#000;'>-1</text>
<text x="335.5" y="519.5" text-anchor="middle" style='font-family:"Liberation Sans",sans-serif;font-size:7px;font-weight:normal;fill:#000;stroke:#000;stroke-width:0.25px;'>10</text>
<text x="339.5" y="515.9" text-anchor="start" style='font-family:"Liberation Sans",sans-serif;font-size:4.6px;font-weight:normal;fill:#000;'>0</text>
<text x="265.9" y="529.7" text-anchor="middle" style='font-family:"Liberation Sans",sans-serif;font-size:9.3px;font-weight:bold;fill:#000;' textLength="108" lengthAdjust="spacingAndGlyphs">Transmission coefficient</text>
<text x="191.5" y="317.6" text-anchor="end" style='font-family:"Liberation Sans",sans-serif;font-size:6.4px;font-weight:bold;fill:#000;'>0</text>
<text x="191.5" y="358.70000000000005" text-anchor="end" style='font-family:"Liberation Sans",sans-serif;font-size:6.4px;font-weight:bold;fill:#000;'>-0.2</text>
<text x="191.5" y="399.8" text-anchor="end" style='font-family:"Liberation Sans",sans-serif;font-size:6.4px;font-weight:bold;fill:#000;'>-0.4</text>
<text x="191.5" y="440.90000000000003" text-anchor="end" style='font-family:"Liberation Sans",sans-serif;font-size:6.4px;font-weight:bold;fill:#000;'>-0.6</text>
<text x="191.5" y="482.00000000000006" text-anchor="end" style='font-family:"Liberation Sans",sans-serif;font-size:6.4px;font-weight:bold;fill:#000;'>-0.8</text>
<path d="M194.5,297.3 C206.5,299.225 216.5,300.2 234.5,300.7" fill="none" stroke="#1c1c78" stroke-width="1.1"/>
<path d="M194.5,304.8 C206.5,302.375 216.5,301.40000000000003 234.5,300.90000000000003" fill="none" stroke="#2a2a9a" stroke-width="1.1"/>
<line x1="224.5" y1="300.8" x2="337.3" y2="300.8" stroke="#30309c" stroke-width="1.35" />
<line x1="234.5" y1="300.8" x2="269.5" y2="300.8" stroke="#1018d8" stroke-width="1.5" />
<path d="M194.5,370.7 C206.5,372.79 216.5,373.9 234.5,374.4" fill="none" stroke="#1c1c78" stroke-width="1.1"/>
<path d="M194.5,378.8 C206.5,376.21 216.5,375.1 234.5,374.6" fill="none" stroke="#2a2a9a" stroke-width="1.1"/>
<line x1="224.5" y1="374.5" x2="329.4" y2="374.5" stroke="#30309c" stroke-width="1.35" />
<line x1="234.5" y1="374.5" x2="269.5" y2="374.5" stroke="#1018d8" stroke-width="1.5" />
<path d="M194.5,442.7 C206.5,445.72499999999997 216.5,447.59999999999997 234.5,448.09999999999997" fill="none" stroke="#1c1c78" stroke-width="1.1"/>
<path d="M194.5,454.2 C206.5,450.675 216.5,448.8 234.5,448.3" fill="none" stroke="#2a2a9a" stroke-width="1.1"/>
<line x1="224.5" y1="448.2" x2="333.6" y2="448.2" stroke="#30309c" stroke-width="1.35" />
<line x1="234.5" y1="448.2" x2="269.5" y2="448.2" stroke="#1018d8" stroke-width="1.5" />
<circle cx="285.1" cy="313" r="10.1" fill="#cde5e1" stroke="#a8b8b8" stroke-width="0.8"/>
<text x="285.1" y="319.2" text-anchor="middle" style='font-family:"Liberation Sans",sans-serif;font-size:17px;font-weight:bold;fill:#000;'>2</text>
<circle cx="285.1" cy="362" r="10.1" fill="#cde5e1" stroke="#a8b8b8" stroke-width="0.8"/>
<text x="285.1" y="368.2" text-anchor="middle" style='font-family:"Liberation Sans",sans-serif;font-size:17px;font-weight:bold;fill:#000;'>1</text>
<circle cx="285" cy="436" r="10.1" fill="#cde5e1" stroke="#a8b8b8" stroke-width="0.8"/>
<text x="284.4" y="442.2" text-anchor="middle" style='font-family:"Liberation Sans",sans-serif;font-size:17px;font-weight:bold;fill:#000;'>-1</text>
<text x="232.7" y="487.5" style='font-family:"Liberation Serif",serif;font-size:16.5px;font-style:italic;fill:#434d6c'>V</text>
<text x="239.79999999999998" y="490.7" style='font-family:"Liberation Serif",serif;font-size:9.5px;font-style:italic;fill:#434d6c' textLength="12.6" lengthAdjust="spacingAndGlyphs">bias</text>
<text x="256.5" y="487.5" style='font-family:"Liberation Serif",serif;font-size:16.5px;fill:#434d6c'>=</text>
<text x="268.4" y="487.5" style='font-family:"Liberation Serif",serif;font-size:16.5px;fill:#434d6c' textLength="16.4" lengthAdjust="spacingAndGlyphs">0.7</text>
<text x="286.0" y="487.5" style='font-family:"Liberation Serif",serif;font-size:16.5px;font-style:italic;fill:#434d6c' textLength="9.6" lengthAdjust="spacingAndGlyphs">V</text>
<rect x="559.4" y="64.3" width="117.80000000000007" height="99.2" fill="#fff" stroke="#888" stroke-width="0.9"/>
<line x1="559.4" y1="64.69999999999999" x2="561.1999999999999" y2="64.69999999999999" stroke="#888" stroke-width="0.7" />
<line x1="675.4000000000001" y1="64.69999999999999" x2="677.2" y2="64.69999999999999" stroke="#888" stroke-width="0.7" />
<text x="557.9" y="66.69999999999999" text-anchor="end" style='font-family:"Liberation Sans",sans-serif;font-size:5.6px;font-weight:normal;fill:#000;stroke:#000;stroke-width:0.2px;'>10</text>
<line x1="559.4" y1="89.5" x2="561.1999999999999" y2="89.5" stroke="#888" stroke-width="0.7" />
<line x1="675.4000000000001" y1="89.5" x2="677.2" y2="89.5" stroke="#888" stroke-width="0.7" />
<text x="557.9" y="91.5" text-anchor="end" style='font-family:"Liberation Sans",sans-serif;font-size:5.6px;font-weight:normal;fill:#000;stroke:#000;stroke-width:0.2px;'>5</text>
<line x1="559.4" y1="114.3" x2="561.1999999999999" y2="114.3" stroke="#888" stroke-width="0.7" />
<line x1="675.4000000000001" y1="114.3" x2="677.2" y2="114.3" stroke="#888" stroke-width="0.7" />
<text x="557.9" y="116.3" text-anchor="end" style='font-family:"Liberation Sans",sans-serif;font-size:5.6px;font-weight:normal;fill:#000;stroke:#000;stroke-width:0.2px;'>0</text>
<line x1="559.4" y1="139.1" x2="561.1999999999999" y2="139.1" stroke="#888" stroke-width="0.7" />
<line x1="675.4000000000001" y1="139.1" x2="677.2" y2="139.1" stroke="#888" stroke-width="0.7" />
<text x="557.9" y="141.1" text-anchor="end" style='font-family:"Liberation Sans",sans-serif;font-size:5.6px;font-weight:normal;fill:#000;stroke:#000;stroke-width:0.2px;'>-5</text>
<line x1="559.4" y1="163.9" x2="561.1999999999999" y2="163.9" stroke="#888" stroke-width="0.7" />
<line x1="675.4000000000001" y1="163.9" x2="677.2" y2="163.9" stroke="#888" stroke-width="0.7" />
<text x="557.9" y="165.9" text-anchor="end" style='font-family:"Liberation Sans",sans-serif;font-size:5.6px;font-weight:normal;fill:#000;stroke:#000;stroke-width:0.2px;'>-10</text>
<line x1="565.1800000000001" y1="163.5" x2="565.1800000000001" y2="161.7" stroke="#888" stroke-width="0.6" />
<line x1="565.1800000000001" y1="64.3" x2="565.1800000000001" y2="66.1" stroke="#888" stroke-width="0.6" />
<line x1="570.5443545227322" y1="163.5" x2="570.5443545227322" y2="162.5" stroke="#888" stroke-width="0.6" />
<line x1="570.5443545227322" y1="64.3" x2="570.5443545227322" y2="65.3" stroke="#888" stroke-width="0.6" />
<line x1="573.6823007591045" y1="163.5" x2="573.6823007591045" y2="162.5" stroke="#888" stroke-width="0.6" />
<line x1="573.6823007591045" y1="64.3" x2="573.6823007591045" y2="65.3" stroke="#888" stroke-width="0.6" />
<line x1="575.9087090454643" y1="163.5" x2="575.9087090454643" y2="162.5" stroke="#888" stroke-width="0.6" />
<line x1="575.9087090454643" y1="64.3" x2="575.9087090454643" y2="65.3" stroke="#888" stroke-width="0.6" />
<line x1="577.6356454772679" y1="163.5" x2="577.6356454772679" y2="162.5" stroke="#888" stroke-width="0.6" />
<line x1="577.6356454772679" y1="64.3" x2="577.6356454772679" y2="65.3" stroke="#888" stroke-width="0.6" />
<line x1="579.0466552818366" y1="163.5" x2="579.0466552818366" y2="162.5" stroke="#888" stroke-width="0.6" />
<line x1="579.0466552818366" y1="64.3" x2="579.0466552818366" y2="65.3" stroke="#888" stroke-width="0.6" />
<line x1="580.2396470730541" y1="163.5" x2="580.2396470730541" y2="162.5" stroke="#888" stroke-width="0.6" />
<line x1="580.2396470730541" y1="64.3" x2="580.2396470730541" y2="65.3" stroke="#888" stroke-width="0.6" />
<line x1="581.2730635681964" y1="163.5" x2="581.2730635681964" y2="162.5" stroke="#888" stroke-width="0.6" />
<line x1="581.2730635681964" y1="64.3" x2="581.2730635681964" y2="65.3" stroke="#888" stroke-width="0.6" />
<line x1="582.1846015182088" y1="163.5" x2="582.1846015182088" y2="162.5" stroke="#888" stroke-width="0.6" />
<line x1="582.1846015182088" y1="64.3" x2="582.1846015182088" y2="65.3" stroke="#888" stroke-width="0.6" />
<line x1="583.0" y1="163.5" x2="583.0" y2="161.7" stroke="#888" stroke-width="0.6" />
<line x1="583.0" y1="64.3" x2="583.0" y2="66.1" stroke="#888" stroke-width="0.6" />
<line x1="588.3643545227321" y1="163.5" x2="588.3643545227321" y2="162.5" stroke="#888" stroke-width="0.6" />
<line x1="588.3643545227321" y1="64.3" x2="588.3643545227321" y2="65.3" stroke="#888" stroke-width="0.6" />
<line x1="591.5023007591044" y1="163.5" x2="591.5023007591044" y2="162.5" stroke="#888" stroke-width="0.6" />
<line x1="591.5023007591044" y1="64.3" x2="591.5023007591044" y2="65.3" stroke="#888" stroke-width="0.6" />
<line x1="593.7287090454643" y1="163.5" x2="593.7287090454643" y2="162.5" stroke="#888" stroke-width="0.6" />
<line x1="593.7287090454643" y1="64.3" x2="593.7287090454643" y2="65.3" stroke="#888" stroke-width="0.6" />
<line x1="595.4556454772679" y1="163.5" x2="595.4556454772679" y2="162.5" stroke="#888" stroke-width="0.6" />
<line x1="595.4556454772679" y1="64.3" x2="595.4556454772679" y2="65.3" stroke="#888" stroke-width="0.6" />
<line x1="596.8666552818365" y1="163.5" x2="596.8666552818365" y2="162.5" stroke="#888" stroke-width="0.6" />
<line x1="596.8666552818365" y1="64.3" x2="596.8666552818365" y2="65.3" stroke="#888" stroke-width="0.6" />
<line x1="598.0596470730541" y1="163.5" x2="598.0596470730541" y2="162.5" stroke="#888" stroke-width="0.6" />
<line x1="598.0596470730541" y1="64.3" x2="598.0596470730541" y2="65.3" stroke="#888" stroke-width="0.6" />
<line x1="599.0930635681965" y1="163.5" x2="599.0930635681965" y2="162.5" stroke="#888" stroke-width="0.6" />
<line x1="599.0930635681965" y1="64.3" x2="599.0930635681965" y2="65.3" stroke="#888" stroke-width="0.6" />
<line x1="600.0046015182088" y1="163.5" x2="600.0046015182088" y2="162.5" stroke="#888" stroke-width="0.6" />
<line x1="600.0046015182088" y1="64.3" x2="600.0046015182088" y2="65.3" stroke="#888" stroke-width="0.6" />
<line x1="600.82" y1="163.5" x2="600.82" y2="161.7" stroke="#888" stroke-width="0.6" />
<line x1="600.82" y1="64.3" x2="600.82" y2="66.1" stroke="#888" stroke-width="0.6" />
<line x1="606.1843545227322" y1="163.5" x2="606.1843545227322" y2="162.5" stroke="#888" stroke-width="0.6" />
<line x1="606.1843545227322" y1="64.3" x2="606.1843545227322" y2="65.3" stroke="#888" stroke-width="0.6" />
<line x1="609.3223007591045" y1="163.5" x2="609.3223007591045" y2="162.5" stroke="#888" stroke-width="0.6" />
<line x1="609.3223007591045" y1="64.3" x2="609.3223007591045" y2="65.3" stroke="#888" stroke-width="0.6" />
<line x1="611.5487090454643" y1="163.5" x2="611.5487090454643" y2="162.5" stroke="#888" stroke-width="0.6" />
<line x1="611.5487090454643" y1="64.3" x2="611.5487090454643" y2="65.3" stroke="#888" stroke-width="0.6" />
<line x1="613.2756454772679" y1="163.5" x2="613.2756454772679" y2="162.5" stroke="#888" stroke-width="0.6" />
<line x1="613.2756454772679" y1="64.3" x2="613.2756454772679" y2="65.3" stroke="#888" stroke-width="0.6" />
<line x1="614.6866552818366" y1="163.5" x2="614.6866552818366" y2="162.5" stroke="#888" stroke-width="0.6" />
<line x1="614.6866552818366" y1="64.3" x2="614.6866552818366" y2="65.3" stroke="#888" stroke-width="0.6" />
<line x1="615.8796470730541" y1="163.5" x2="615.8796470730541" y2="162.5" stroke="#888" stroke-width="0.6" />
<line x1="615.8796470730541" y1="64.3" x2="615.8796470730541" y2="65.3" stroke="#888" stroke-width="0.6" />
<line x1="616.9130635681964" y1="163.5" x2="616.9130635681964" y2="162.5" stroke="#888" stroke-width="0.6" />
<line x1="616.9130635681964" y1="64.3" x2="616.9130635681964" y2="65.3" stroke="#888" stroke-width="0.6" />
<line x1="617.8246015182087" y1="163.5" x2="617.8246015182087" y2="162.5" stroke="#888" stroke-width="0.6" />
<line x1="617.8246015182087" y1="64.3" x2="617.8246015182087" y2="65.3" stroke="#888" stroke-width="0.6" />
<line x1="618.64" y1="163.5" x2="618.64" y2="161.7" stroke="#888" stroke-width="0.6" />
<line x1="618.64" y1="64.3" x2="618.64" y2="66.1" stroke="#888" stroke-width="0.6" />
<line x1="624.0043545227321" y1="163.5" x2="624.0043545227321" y2="162.5" stroke="#888" stroke-width="0.6" />
<line x1="624.0043545227321" y1="64.3" x2="624.0043545227321" y2="65.3" stroke="#888" stroke-width="0.6" />
<line x1="627.1423007591044" y1="163.5" x2="627.1423007591044" y2="162.5" stroke="#888" stroke-width="0.6" />
<line x1="627.1423007591044" y1="64.3" x2="627.1423007591044" y2="65.3" stroke="#888" stroke-width="0.6" />
<line x1="629.3687090454644" y1="163.5" x2="629.3687090454644" y2="162.5" stroke="#888" stroke-width="0.6" />
<line x1="629.3687090454644" y1="64.3" x2="629.3687090454644" y2="65.3" stroke="#888" stroke-width="0.6" />
<line x1="631.0956454772679" y1="163.5" x2="631.0956454772679" y2="162.5" stroke="#888" stroke-width="0.6" />
<line x1="631.0956454772679" y1="64.3" x2="631.0956454772679" y2="65.3" stroke="#888" stroke-width="0.6" />
<line x1="632.5066552818365" y1="163.5" x2="632.5066552818365" y2="162.5" stroke="#888" stroke-width="0.6" />
<line x1="632.5066552818365" y1="64.3" x2="632.5066552818365" y2="65.3" stroke="#888" stroke-width="0.6" />
<line x1="633.699647073054" y1="163.5" x2="633.699647073054" y2="162.5" stroke="#888" stroke-width="0.6" />
<line x1="633.699647073054" y1="64.3" x2="633.699647073054" y2="65.3" stroke="#888" stroke-width="0.6" />
<line x1="634.7330635681965" y1="163.5" x2="634.7330635681965" y2="162.5" stroke="#888" stroke-width="0.6" />
<line x1="634.7330635681965" y1="64.3" x2="634.7330635681965" y2="65.3" stroke="#888" stroke-width="0.6" />
<line x1="635.6446015182088" y1="163.5" x2="635.6446015182088" y2="162.5" stroke="#888" stroke-width="0.6" />
<line x1="635.6446015182088" y1="64.3" x2="635.6446015182088" y2="65.3" stroke="#888" stroke-width="0.6" />
<line x1="636.46" y1="163.5" x2="636.46" y2="161.7" stroke="#888" stroke-width="0.6" />
<line x1="636.46" y1="64.3" x2="636.46" y2="66.1" stroke="#888" stroke-width="0.6" />
<line x1="641.8243545227322" y1="163.5" x2="641.8243545227322" y2="162.5" stroke="#888" stroke-width="0.6" />
<line x1="641.8243545227322" y1="64.3" x2="641.8243545227322" y2="65.3" stroke="#888" stroke-width="0.6" />
<line x1="644.9623007591044" y1="163.5" x2="644.9623007591044" y2="162.5" stroke="#888" stroke-width="0.6" />
<line x1="644.9623007591044" y1="64.3" x2="644.9623007591044" y2="65.3" stroke="#888" stroke-width="0.6" />
<line x1="647.1887090454643" y1="163.5" x2="647.1887090454643" y2="162.5" stroke="#888" stroke-width="0.6" />
<line x1="647.1887090454643" y1="64.3" x2="647.1887090454643" y2="65.3" stroke="#888" stroke-width="0.6" />
<line x1="648.9156454772678" y1="163.5" x2="648.9156454772678" y2="162.5" stroke="#888" stroke-width="0.6" />
<line x1="648.9156454772678" y1="64.3" x2="648.9156454772678" y2="65.3" stroke="#888" stroke-width="0.6" />
<line x1="650.3266552818366" y1="163.5" x2="650.3266552818366" y2="162.5" stroke="#888" stroke-width="0.6" />
<line x1="650.3266552818366" y1="64.3" x2="650.3266552818366" y2="65.3" stroke="#888" stroke-width="0.6" />
<line x1="651.5196470730541" y1="163.5" x2="651.5196470730541" y2="162.5" stroke="#888" stroke-width="0.6" />
<line x1="651.5196470730541" y1="64.3" x2="651.5196470730541" y2="65.3" stroke="#888" stroke-width="0.6" />
<line x1="652.5530635681964" y1="163.5" x2="652.5530635681964" y2="162.5" stroke="#888" stroke-width="0.6" />
<line x1="652.5530635681964" y1="64.3" x2="652.5530635681964" y2="65.3" stroke="#888" stroke-width="0.6" />
<line x1="653.4646015182088" y1="163.5" x2="653.4646015182088" y2="162.5" stroke="#888" stroke-width="0.6" />
<line x1="653.4646015182088" y1="64.3" x2="653.4646015182088" y2="65.3" stroke="#888" stroke-width="0.6" />
<line x1="654.28" y1="163.5" x2="654.28" y2="161.7" stroke="#888" stroke-width="0.6" />
<line x1="654.28" y1="64.3" x2="654.28" y2="66.1" stroke="#888" stroke-width="0.6" />
<line x1="659.6443545227322" y1="163.5" x2="659.6443545227322" y2="162.5" stroke="#888" stroke-width="0.6" />
<line x1="659.6443545227322" y1="64.3" x2="659.6443545227322" y2="65.3" stroke="#888" stroke-width="0.6" />
<line x1="662.7823007591044" y1="163.5" x2="662.7823007591044" y2="162.5" stroke="#888" stroke-width="0.6" />
<line x1="662.7823007591044" y1="64.3" x2="662.7823007591044" y2="65.3" stroke="#888" stroke-width="0.6" />
<line x1="665.0087090454643" y1="163.5" x2="665.0087090454643" y2="162.5" stroke="#888" stroke-width="0.6" />
<line x1="665.0087090454643" y1="64.3" x2="665.0087090454643" y2="65.3" stroke="#888" stroke-width="0.6" />
<line x1="666.7356454772679" y1="163.5" x2="666.7356454772679" y2="162.5" stroke="#888" stroke-width="0.6" />
<line x1="666.7356454772679" y1="64.3" x2="666.7356454772679" y2="65.3" stroke="#888" stroke-width="0.6" />
<line x1="668.1466552818365" y1="163.5" x2="668.1466552818365" y2="162.5" stroke="#888" stroke-width="0.6" />
<line x1="668.1466552818365" y1="64.3" x2="668.1466552818365" y2="65.3" stroke="#888" stroke-width="0.6" />
<line x1="669.339647073054" y1="163.5" x2="669.339647073054" y2="162.5" stroke="#888" stroke-width="0.6" />
<line x1="669.339647073054" y1="64.3" x2="669.339647073054" y2="65.3" stroke="#888" stroke-width="0.6" />
<line x1="670.3730635681965" y1="163.5" x2="670.3730635681965" y2="162.5" stroke="#888" stroke-width="0.6" />
<line x1="670.3730635681965" y1="64.3" x2="670.3730635681965" y2="65.3" stroke="#888" stroke-width="0.6" />
<line x1="671.2846015182088" y1="163.5" x2="671.2846015182088" y2="162.5" stroke="#888" stroke-width="0.6" />
<line x1="671.2846015182088" y1="64.3" x2="671.2846015182088" y2="65.3" stroke="#888" stroke-width="0.6" />
<line x1="672.1" y1="163.5" x2="672.1" y2="161.7" stroke="#888" stroke-width="0.6" />
<line x1="672.1" y1="64.3" x2="672.1" y2="66.1" stroke="#888" stroke-width="0.6" />
<text x="563.6800000000001" y="171.5" text-anchor="middle" style='font-family:"Liberation Sans",sans-serif;font-size:5.4px;font-weight:normal;fill:#000;stroke:#000;stroke-width:0.2px;'>10</text>
<text x="567.3800000000001" y="168.8" text-anchor="start" style='font-family:"Liberation Sans",sans-serif;font-size:3.8px;font-weight:normal;fill:#000;'>-6</text>
<text x="599.32" y="171.5" text-anchor="middle" style='font-family:"Liberation Sans",sans-serif;font-size:5.4px;font-weight:normal;fill:#000;stroke:#000;stroke-width:0.2px;'>10</text>
<text x="603.0200000000001" y="168.8" text-anchor="start" style='font-family:"Liberation Sans",sans-serif;font-size:3.8px;font-weight:normal;fill:#000;'>-4</text>
<text x="634.96" y="171.5" text-anchor="middle" style='font-family:"Liberation Sans",sans-serif;font-size:5.4px;font-weight:normal;fill:#000;stroke:#000;stroke-width:0.2px;'>10</text>
<text x="638.6600000000001" y="168.8" text-anchor="start" style='font-family:"Liberation Sans",sans-serif;font-size:3.8px;font-weight:normal;fill:#000;'>-2</text>
<text x="670.6" y="171.5" text-anchor="middle" style='font-family:"Liberation Sans",sans-serif;font-size:5.4px;font-weight:normal;fill:#000;stroke:#000;stroke-width:0.2px;'>10</text>
<text x="674.3000000000001" y="168.8" text-anchor="start" style='font-family:"Liberation Sans",sans-serif;font-size:3.8px;font-weight:normal;fill:#000;'>0</text>
<path d="M559.4,79.4 L660.5,84 C663.5,84.8 666.5,86 669.3,89.9 C671,92 671.6,96 671.6,99.2 L671.6,129.4 C671.6,133 670.6,136.5 668.6,138.2 C667,139 665.5,138.7 664,138.7 L559.4,142.8" fill="none" stroke="#e02020" stroke-width="1.1"/>
<text transform="translate(547.5,110.5) rotate(-90)" text-anchor="middle" style='font-family:"Liberation Sans",sans-serif;font-size:7.2px;font-weight:normal;fill:#000;stroke:#000;stroke-width:0.25px' textLength="63" lengthAdjust="spacingAndGlyphs">k<tspan dy="1.5" font-size="5">y</tspan><tspan dy="-1.5"> - K</tspan><tspan dy="1.5" font-size="5">y</tspan><tspan dy="-1.5"> (unit of k</tspan><tspan dy="1.5" font-size="5">y</tspan><tspan dy="-1.5">)</tspan></text>
<rect x="382.1" y="287.3" width="298.19999999999993" height="219.59999999999997" fill="#fff" stroke="#808080" stroke-width="0.9"/>
<line x1="382.1" y1="466.103" x2="384.6" y2="466.103" stroke="#555" stroke-width="0.8" />
<line x1="677.8" y1="466.103" x2="680.3" y2="466.103" stroke="#555" stroke-width="0.8" />
<text x="378.6" y="469.303" text-anchor="end" style='font-family:"Liberation Sans",sans-serif;font-size:8.8px;font-weight:bold;fill:#000;'>0.7</text>
<line x1="382.1" y1="425.706" x2="384.6" y2="425.706" stroke="#555" stroke-width="0.8" />
<line x1="677.8" y1="425.706" x2="680.3" y2="425.706" stroke="#555" stroke-width="0.8" />
<text x="378.6" y="428.906" text-anchor="end" style='font-family:"Liberation Sans",sans-serif;font-size:8.8px;font-weight:bold;fill:#000;'>1.4</text>
<line x1="382.1" y1="385.30899999999997" x2="384.6" y2="385.30899999999997" stroke="#555" stroke-width="0.8" />
<line x1="677.8" y1="385.30899999999997" x2="680.3" y2="385.30899999999997" stroke="#555" stroke-width="0.8" />
<text x="378.6" y="388.50899999999996" text-anchor="end" style='font-family:"Liberation Sans",sans-serif;font-size:8.8px;font-weight:bold;fill:#000;'>2.1</text>
<line x1="382.1" y1="344.91200000000003" x2="384.6" y2="344.91200000000003" stroke="#555" stroke-width="0.8" />
<line x1="677.8" y1="344.91200000000003" x2="680.3" y2="344.91200000000003" stroke="#555" stroke-width="0.8" />
<text x="378.6" y="348.112" text-anchor="end" style='font-family:"Liberation Sans",sans-serif;font-size:8.8px;font-weight:bold;fill:#000;'>2.8</text>
<line x1="382.1" y1="304.515" x2="384.6" y2="304.515" stroke="#555" stroke-width="0.8" />
<line x1="677.8" y1="304.515" x2="680.3" y2="304.515" stroke="#555" stroke-width="0.8" />
<text x="378.6" y="307.715" text-anchor="end" style='font-family:"Liberation Sans",sans-serif;font-size:8.8px;font-weight:bold;fill:#000;'>3.5</text>
<text x="378.6" y="510.1" text-anchor="end" style='font-family:"Liberation Sans",sans-serif;font-size:8.8px;font-weight:bold;fill:#000;'>0</text>
<line x1="456.5" y1="506.9" x2="456.5" y2="504.4" stroke="#555" stroke-width="0.8" />
<line x1="456.5" y1="287.3" x2="456.5" y2="289.8" stroke="#555" stroke-width="0.8" />
<text x="456.5" y="517.3" text-anchor="middle" style='font-family:"Liberation Sans",sans-serif;font-size:8.8px;font-weight:bold;fill:#000;'>0.2</text>
<line x1="530.8" y1="506.9" x2="530.8" y2="504.4" stroke="#555" stroke-width="0.8" />
<line x1="530.8" y1="287.3" x2="530.8" y2="289.8" stroke="#555" stroke-width="0.8" />
<text x="530.8" y="517.3" text-anchor="middle" style='font-family:"Liberation Sans",sans-serif;font-size:8.8px;font-weight:bold;fill:#000;'>0.4</text>
<line x1="605.1" y1="506.9" x2="605.1" y2="504.4" stroke="#555" stroke-width="0.8" />
<line x1="605.1" y1="287.3" x2="605.1" y2="289.8" stroke="#555" stroke-width="0.8" />
<text x="605.1" y="517.3" text-anchor="middle" style='font-family:"Liberation Sans",sans-serif;font-size:8.8px;font-weight:bold;fill:#000;'>0.6</text>
<text x="381.1" y="517.3" text-anchor="middle" style='font-family:"Liberation Sans",sans-serif;font-size:8.8px;font-weight:bold;fill:#000;'>0</text>
<text x="680.3" y="517.3" text-anchor="middle" style='font-family:"Liberation Sans",sans-serif;font-size:8.8px;font-weight:bold;fill:#000;'>0.8</text>
<text x="530.0" y="530.5" text-anchor="middle" style='font-family:"Liberation Sans",sans-serif;font-size:12px;font-weight:bold;fill:#000;' textLength="90.3" lengthAdjust="spacingAndGlyphs">Bias voltage (V)</text>
<text transform="translate(361,397.5) rotate(-90)" text-anchor="middle" style='font-family:"Liberation Sans",sans-serif;font-size:12px;font-weight:bold;fill:#000' textLength="122.6" lengthAdjust="spacingAndGlyphs">Current density (A/m)</text>
<g clip-path="url(#Dclip)">
<polyline points="382.2,506.5 400.8,500.7 419.3,498.0 437.9,496.2 456.5,490.3 475.1,484.0 493.6,464.9 512.2,422.8 530.8,378.4 549.4,332.8 568.0,306.2 586.5,357.0 595.8,426.9 605.1,452.8 623.7,377.8 642.2,342.6 660.8,311.4 679.4,246.8" fill="none" stroke="#2a2a80" stroke-width="0.7"/>
<polyline points="382.2,506.5 400.8,502.1 419.3,500.2 437.9,499.0 456.5,490.9 475.1,492.6 493.6,479.4 512.2,463.8 530.8,429.7 549.4,379.5 568.0,359.3 586.5,373.8 605.1,494.4 614.4,484.0 623.7,449.4 642.2,409.5 660.8,338.0 679.4,326.4" fill="none" stroke="#a02c2c" stroke-width="0.7"/>
<polyline points="382.2,506.5 400.8,503.9 419.3,500.7 437.9,497.5 456.5,496.1 475.1,494.4 493.6,490.9 512.2,478.2 530.8,454.6 549.4,432.6 568.0,402.0 586.5,437.2 605.1,499.0 623.7,489.8 642.2,439.0 660.8,393.4 679.4,341.4" fill="none" stroke="#2a5c2a" stroke-width="0.7"/>
<polygon points="400.77,500.90 401.54,502.85 403.63,502.98 402.01,504.30 402.54,506.33 400.77,505.20 399.01,506.33 399.54,504.30 397.92,502.98 400.01,502.85" fill="#1c8a1c"/>
<polygon points="419.35,497.73 420.11,499.68 422.20,499.80 420.59,501.13 421.11,503.16 419.35,502.03 417.59,503.16 418.11,501.13 416.50,499.80 418.59,499.68" fill="#1c8a1c"/>
<polygon points="437.93,494.50 438.69,496.45 440.78,496.57 439.16,497.90 439.69,499.92 437.93,498.80 436.16,499.92 436.69,497.90 435.07,496.57 437.16,496.45" fill="#1c8a1c"/>
<polygon points="456.50,493.11 457.26,495.06 459.35,495.19 457.74,496.51 458.26,498.54 456.50,497.41 454.74,498.54 455.26,496.51 453.65,495.19 455.74,495.06" fill="#1c8a1c"/>
<polygon points="475.07,491.38 475.84,493.33 477.93,493.45 476.31,494.78 476.84,496.81 475.07,495.68 473.31,496.81 473.84,494.78 472.22,493.45 474.31,493.33" fill="#1c8a1c"/>
<polygon points="493.65,487.92 494.41,489.87 496.50,489.99 494.89,491.32 495.41,493.35 493.65,492.22 491.89,493.35 492.41,491.32 490.80,489.99 492.89,489.87" fill="#1c8a1c"/>
<polygon points="512.23,475.22 512.99,477.17 515.08,477.30 513.46,478.62 513.99,480.65 512.23,479.52 510.46,480.65 510.99,478.62 509.37,477.30 511.46,477.17" fill="#1c8a1c"/>
<polygon points="530.80,451.56 531.56,453.51 533.65,453.63 532.04,454.96 532.56,456.99 530.80,455.86 529.04,456.99 529.56,454.96 527.95,453.63 530.04,453.51" fill="#1c8a1c"/>
<polygon points="549.38,429.63 550.14,431.58 552.23,431.70 550.61,433.03 551.14,435.06 549.38,433.93 547.61,435.06 548.14,433.03 546.52,431.70 548.61,431.58" fill="#1c8a1c"/>
<polygon points="567.95,399.04 568.71,400.99 570.80,401.12 569.19,402.45 569.71,404.47 567.95,403.34 566.19,404.47 566.71,402.45 565.10,401.12 567.19,400.99" fill="#1c8a1c"/>
<polygon points="586.52,434.25 587.29,436.20 589.38,436.32 587.76,437.65 588.29,439.68 586.52,438.55 584.76,439.68 585.29,437.65 583.67,436.32 585.76,436.20" fill="#1c8a1c"/>
<polygon points="605.10,496.00 605.86,497.95 607.95,498.07 606.34,499.40 606.86,501.42 605.10,500.30 603.34,501.42 603.86,499.40 602.25,498.07 604.34,497.95" fill="#1c8a1c"/>
<polygon points="623.67,486.76 624.44,488.71 626.53,488.84 624.91,490.17 625.44,492.19 623.67,491.06 621.91,492.19 622.44,490.17 620.82,488.84 622.91,488.71" fill="#1c8a1c"/>
<polygon points="642.25,435.98 643.01,437.93 645.10,438.05 643.49,439.38 644.01,441.41 642.25,440.28 640.49,441.41 641.01,439.38 639.40,438.05 641.49,437.93" fill="#1c8a1c"/>
<polygon points="660.83,390.39 661.59,392.34 663.68,392.46 662.06,393.79 662.59,395.82 660.83,394.69 659.06,395.82 659.59,393.79 657.97,392.46 660.06,392.34" fill="#1c8a1c"/>
<polygon points="679.40,338.45 680.16,340.40 682.25,340.52 680.64,341.85 681.16,343.88 679.40,342.75 677.64,343.88 678.16,341.85 676.55,340.52 678.64,340.40" fill="#1c8a1c"/>
<circle cx="400.775" cy="502.11404" r="2.5" fill="#f01010"/>
<circle cx="419.34999999999997" cy="500.1519" r="2.5" fill="#f01010"/>
<circle cx="437.925" cy="498.9977" r="2.5" fill="#f01010"/>
<circle cx="456.5" cy="490.9183" r="2.5" fill="#f01010"/>
<circle cx="475.075" cy="492.6496" r="2.5" fill="#f01010"/>
<circle cx="493.65" cy="479.3763" r="2.5" fill="#f01010"/>
<circle cx="512.225" cy="463.7946" r="2.5" fill="#f01010"/>
<circle cx="530.8" cy="429.7457" r="2.5" fill="#f01010"/>
<circle cx="549.375" cy="379.538" r="2.5" fill="#f01010"/>
<circle cx="567.95" cy="359.33950000000004" r="2.5" fill="#f01010"/>
<circle cx="586.525" cy="373.767" r="2.5" fill="#f01010"/>
<circle cx="605.1" cy="494.3809" r="2.5" fill="#f01010"/>
<circle cx="614.3875" cy="483.9931" r="2.5" fill="#f01010"/>
<circle cx="623.675" cy="449.3671" r="2.5" fill="#f01010"/>
<circle cx="642.25" cy="409.5472" r="2.5" fill="#f01010"/>
<circle cx="660.825" cy="337.9868" r="2.5" fill="#f01010"/>
<circle cx="679.4" cy="326.4448" r="2.5" fill="#f01010"/>
<rect x="398.47499999999997" y="498.429" width="4.6" height="4.6" fill="#0a10ff"/>
<rect x="417.04999999999995" y="495.71663" width="4.6" height="4.6" fill="#0a10ff"/>
<rect x="435.625" y="493.92762" width="4.6" height="4.6" fill="#0a10ff"/>
<rect x="454.2" y="488.0412" width="4.6" height="4.6" fill="#0a10ff"/>
<rect x="472.775" y="481.6931" width="4.6" height="4.6" fill="#0a10ff"/>
<rect x="491.34999999999997" y="462.6488" width="4.6" height="4.6" fill="#0a10ff"/>
<rect x="509.925" y="420.52049999999997" width="4.6" height="4.6" fill="#0a10ff"/>
<rect x="528.5" y="376.08379999999994" width="4.6" height="4.6" fill="#0a10ff"/>
<rect x="547.075" y="330.4929" width="4.6" height="4.6" fill="#0a10ff"/>
<rect x="565.6500000000001" y="303.9463" width="4.6" height="4.6" fill="#0a10ff"/>
<rect x="584.225" y="354.7311" width="4.6" height="4.6" fill="#0a10ff"/>
<rect x="593.5125" y="424.5602" width="4.6" height="4.6" fill="#0a10ff"/>
<rect x="602.8000000000001" y="450.5297" width="4.6" height="4.6" fill="#0a10ff"/>
<rect x="621.375" y="375.50669999999997" width="4.6" height="4.6" fill="#0a10ff"/>
<rect x="639.95" y="340.3036" width="4.6" height="4.6" fill="#0a10ff"/>
<rect x="658.5250000000001" y="309.1402" width="4.6" height="4.6" fill="#0a10ff"/>
</g>
<rect x="379.9" y="504.2" width="4.6" height="4.6" fill="#404040"/>
<rect x="411.5" y="348.4" width="88" height="52.8" fill="#fff" stroke="#777" stroke-width="0.9"/>
<line x1="415.1" y1="358.1" x2="434.7" y2="358.1" stroke="#3a3aa0" stroke-width="0.8" />
<rect x="423.0" y="355.8" width="4.6" height="4.6" fill="#0a10ff"/>
<text x="436.0" y="359.40000000000003" text-anchor="start" style='font-family:"Liberation Sans",sans-serif;font-size:8.6px;font-weight:bold;fill:#000;'>E</text>
<text x="443" y="364.3" text-anchor="start" style='font-family:"Liberation Sans",sans-serif;font-size:6.8px;font-weight:bold;fill:#000;'>g</text>
<text x="449.2" y="359.40000000000003" text-anchor="start" style='font-family:"Liberation Sans",sans-serif;font-size:8.6px;font-weight:bold;fill:#000;' textLength="36.2" lengthAdjust="spacingAndGlyphs">= 0 meV</text>
<line x1="415.1" y1="374.8" x2="434.7" y2="374.8" stroke="#c04848" stroke-width="0.8" />
<circle cx="425.3" cy="374.8" r="2.5" fill="#f01010"/>
<text x="436.0" y="376.1" text-anchor="start" style='font-family:"Liberation Sans",sans-serif;font-size:8.6px;font-weight:bold;fill:#000;'>E</text>
<text x="443" y="381.0" text-anchor="start" style='font-family:"Liberation Sans",sans-serif;font-size:6.8px;font-weight:bold;fill:#000;'>g</text>
<text x="449.2" y="376.1" text-anchor="start" style='font-family:"Liberation Sans",sans-serif;font-size:8.6px;font-weight:bold;fill:#000;' textLength="41.3" lengthAdjust="spacingAndGlyphs">= 50 meV</text>
<line x1="415.1" y1="391" x2="434.7" y2="391" stroke="#3a703a" stroke-width="0.8" />
<polygon points="425.30,388.00 426.06,389.95 428.15,390.07 426.54,391.40 427.06,393.43 425.30,392.30 423.54,393.43 424.06,391.40 422.45,390.07 424.54,389.95" fill="#1c8a1c"/>
<text x="436.0" y="392.3" text-anchor="start" style='font-family:"Liberation Sans",sans-serif;font-size:8.6px;font-weight:bold;fill:#000;'>E</text>
<text x="443" y="397.2" text-anchor="start" style='font-family:"Liberation Sans",sans-serif;font-size:6.8px;font-weight:bold;fill:#000;'>g</text>
<text x="449.2" y="392.3" text-anchor="start" style='font-family:"Liberation Sans",sans-serif;font-size:8.6px;font-weight:bold;fill:#000;' textLength="46.4" lengthAdjust="spacingAndGlyphs">= 100 meV</text>
<rect x="2.2" y="255" width="24.5" height="23.6" fill="#9fcdf8" />
<text x="14.45" y="272.0" text-anchor="middle" style='font-family:"Liberation Sans",sans-serif;font-size:16px;font-weight:bold;fill:#000;' textLength="17.5" lengthAdjust="spacingAndGlyphs">(a)</text>
<rect x="347.9" y="255" width="25" height="24" fill="#9fcdf8" />
<text x="360.4" y="272.4" text-anchor="middle" style='font-family:"Liberation Sans",sans-serif;font-size:16px;font-weight:bold;fill:#000;' textLength="18" lengthAdjust="spacingAndGlyphs">(b)</text>
<rect x="2.2" y="510.9" width="24.5" height="23.4" fill="#9fcdf8" />
<text x="14.45" y="527.6999999999999" text-anchor="middle" style='font-family:"Liberation Sans",sans-serif;font-size:16px;font-weight:bold;fill:#000;' textLength="17.5" lengthAdjust="spacingAndGlyphs">(c)</text>
<rect x="348.8" y="510.9" width="24" height="23.8" fill="#9fcdf8" />
<text x="360.8" y="528.0999999999999" text-anchor="middle" style='font-family:"Liberation Sans",sans-serif;font-size:16px;font-weight:bold;fill:#000;' textLength="17" lengthAdjust="spacingAndGlyphs">(d)</text>
<line x1="2" y1="1.4" x2="688" y2="1.4" stroke="#383838" stroke-width="1.3" stroke-dasharray="3.1,1.7"/>
<line x1="2" y1="280.2" x2="688" y2="280.2" stroke="#383838" stroke-width="1.3" stroke-dasharray="3.1,1.7"/>
<line x1="2" y1="535.9" x2="688" y2="535.9" stroke="#383838" stroke-width="1.3" stroke-dasharray="3.1,1.7"/>
<line x1="1.6" y1="5" x2="1.6" y2="536" stroke="#383838" stroke-width="1.3" stroke-dasharray="3.1,1.7"/>
<line x1="347" y1="2" x2="347" y2="536" stroke="#383838" stroke-width="1.3" stroke-dasharray="3.1,1.7"/>
<line x1="688.2" y1="2" x2="688.2" y2="536" stroke="#383838" stroke-width="1.3" stroke-dasharray="3.1,1.7"/>
</svg></body></html>
